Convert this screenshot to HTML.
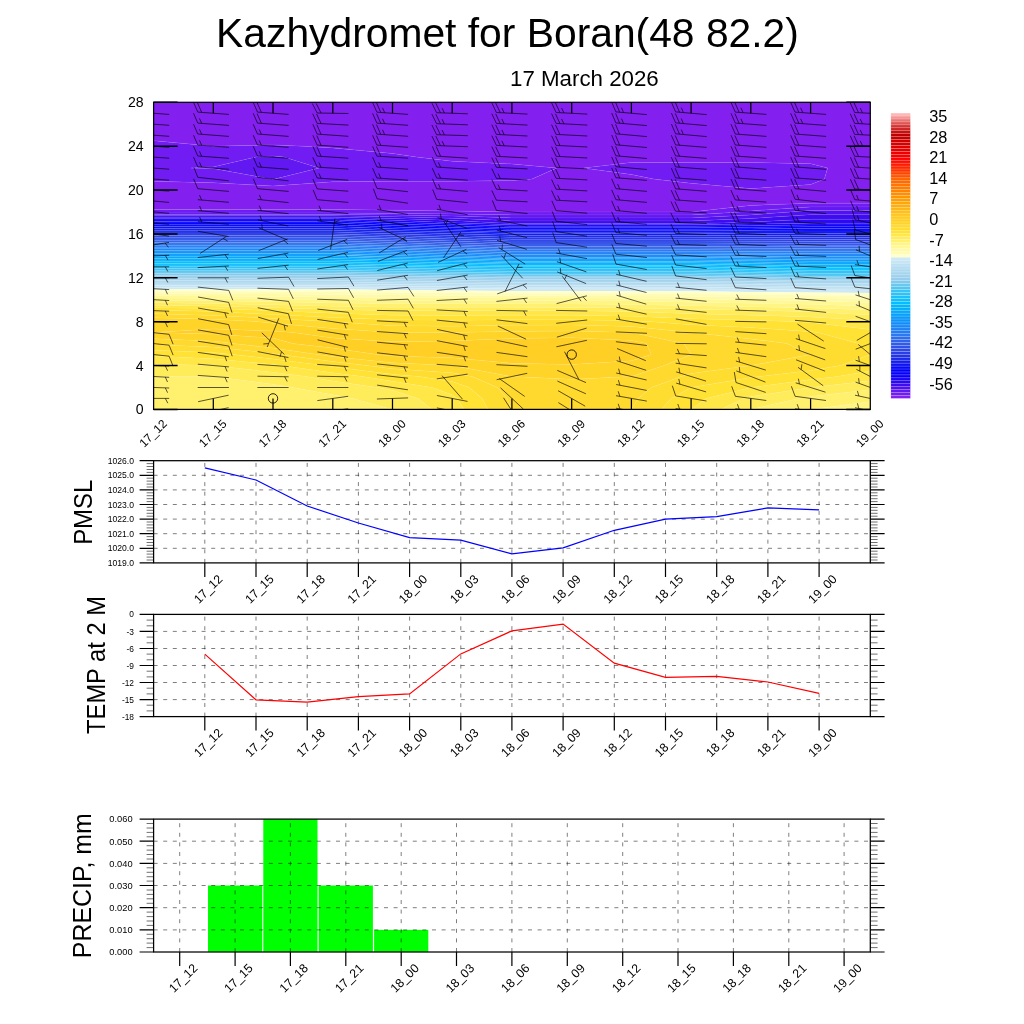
<!DOCTYPE html>
<html><head><meta charset="utf-8"><title>Kazhydromet for Boran(48 82.2)</title>
<style>html,body{margin:0;padding:0;background:#fff}svg{display:block}text{font-family:"Liberation Sans",sans-serif;fill:#000}</style></head><body>
<svg width="1024" height="1024" viewBox="0 0 1024 1024">
<rect width="1024" height="1024" fill="#fff"/>
<text x="507.5" y="47" font-size="40.8" text-anchor="middle">Kazhydromet for Boran(48 82.2)</text>
<text x="584.4" y="86.2" font-size="22.3" text-anchor="middle">17 March 2026</text>
<defs><clipPath id="cp"><rect x="153.6" y="102.3" width="716.7" height="307.1"/></clipPath></defs>
<g clip-path="url(#cp)">
<rect x="153.6" y="102.3" width="716.7" height="307.1" fill="#fff"/>
<g stroke="#fff" stroke-opacity=".15" stroke-width=".45" stroke-linejoin="round">
<path fill="#831fef" fill-rule="evenodd" d="M511.9,212L571.7,212L631.4,212L691.1,212L750.8,205.4L810.6,203.2L870.3,203.2L870.3,201L870.3,190L870.3,179.1L870.3,168.1L870.3,157.1L870.3,146.2L870.3,135.2L870.3,124.2L870.3,113.3L870.3,102.3L810.6,102.3L750.8,102.3L691.1,102.3L631.4,102.3L571.7,102.3L511.9,102.3L452.2,102.3L392.5,102.3L332.8,102.3L273,102.3L213.3,102.3L153.6,102.3L153.6,113.3L153.6,124.2L153.6,135.2L153.6,140.7L213.3,146.2L273,145L302.9,146.2L332.8,147.9L392.5,153.5L416.4,157.1L452.2,161.3L511.9,164L556.7,168.1L531.9,179.1L511.9,180.6L452.2,181.3L392.5,181.3L332.8,181.8L273,186L213.3,182.7L153.6,181.3L153.6,190L153.6,201L153.6,209.4L213.3,209.4L273,209.4L332.8,209.4L392.5,210.2L452.2,211ZM653.8,179.1L631.4,174.4L583.6,168.1L631.4,162.6L691.1,162.6L750.8,162.6L810.6,163.7L827.6,168.1L824.4,179.1L810.6,184.6L750.8,188.5L691.1,183.3Z"/>
<path fill="#701cf2" fill-rule="evenodd" d="M213.3,213L273,213L332.8,213L392.5,213.4L452.2,213.9L511.9,214.9L571.7,214.9L631.4,214.9L691.1,214.9L740.9,212L750.8,210.9L810.6,206.9L870.3,206.9L870.3,203.2L810.6,203.2L750.8,205.4L691.1,212L631.4,212L571.7,212L511.9,212L452.2,211L392.5,210.2L332.8,209.4L273,209.4L213.3,209.4L153.6,209.4L153.6,212L153.6,213ZM213.3,182.7L273,186L332.8,181.8L392.5,181.3L452.2,181.3L511.9,180.6L531.9,179.1L556.7,168.1L511.9,164L452.2,161.3L416.4,157.1L392.5,153.5L332.8,147.9L302.9,146.2L273,145L213.3,146.2L153.6,140.7L153.6,146.2L153.6,157.1L153.6,168.1L153.6,179.1L153.6,181.3ZM271.4,179.1L213.3,168.6L190.9,168.1L213.3,166.9L256,157.1L273,156L283.9,157.1L319,168.1L274.5,179.1L273,179.2ZM691.1,183.3L750.8,188.5L810.6,184.6L824.4,179.1L827.6,168.1L810.6,163.7L750.8,162.6L691.1,162.6L631.4,162.6L583.6,168.1L631.4,174.4L653.8,179.1Z"/>
<path fill="#6118f1" fill-rule="evenodd" d="M213.3,214.4L273,214.4L332.8,214.4L392.5,215.1L452.2,216.1L511.9,217.9L571.7,217.9L631.4,217.9L691.1,217.9L750.8,214.9L790.7,212L810.6,210.5L870.3,210.5L870.3,206.9L810.6,206.9L750.8,210.9L740.9,212L691.1,214.9L631.4,214.9L571.7,214.9L511.9,214.9L452.2,213.9L392.5,213.4L332.8,213L273,213L213.3,213L153.6,213L153.6,214.4ZM273,179.2L274.5,179.1L319,168.1L283.9,157.1L273,156L256,157.1L213.3,166.9L190.9,168.1L213.3,168.6L271.4,179.1Z"/>
<path fill="#5012f0" fill-rule="evenodd" d="M213.3,215.8L273,215.8L332.8,215.8L392.5,216.8L452.2,218.3L511.9,220.9L571.7,220.9L631.4,220.9L691.1,220.9L750.8,218.5L810.6,214.7L870.3,214.7L870.3,212L870.3,210.5L810.6,210.5L790.7,212L750.8,214.9L691.1,217.9L631.4,217.9L571.7,217.9L511.9,217.9L452.2,216.1L392.5,215.1L332.8,214.4L273,214.4L213.3,214.4L153.6,214.4L153.6,215.8Z"/>
<path fill="#3e0cee" fill-rule="evenodd" d="M511.9,223.4L571.7,223.4L631.4,223.4L691.1,223.4L723.7,222.9L750.8,222L810.6,219.3L870.3,219.3L870.3,214.7L810.6,214.7L750.8,218.5L691.1,220.9L631.4,220.9L571.7,220.9L511.9,220.9L452.2,218.3L392.5,216.8L332.8,215.8L273,215.8L213.3,215.8L153.6,215.8L153.6,217.2L213.3,217.2L273,217.2L332.8,217.2L392.5,218.5L452.2,220.5L499.4,222.9Z"/>
<path fill="#2d08f2" fill-rule="evenodd" d="M511.9,224.8L571.7,224.8L631.4,224.8L691.1,224.8L750.8,224.1L810.6,223.3L870.3,223.3L870.3,222.9L870.3,219.3L810.6,219.3L750.8,222L723.7,222.9L691.1,223.4L631.4,223.4L571.7,223.4L511.9,223.4L499.4,222.9L452.2,220.5L392.5,218.5L332.8,217.2L273,217.2L213.3,217.2L153.6,217.2L153.6,218.7L213.3,218.7L273,218.7L332.8,218.7L392.5,220.2L452.2,222.7L457.8,222.9Z"/>
<path fill="#1b04f6" fill-rule="evenodd" d="M452.2,224.3L511.9,226.3L571.7,226.3L631.4,226.3L691.1,226.3L750.8,225.7L810.6,225L870.3,225L870.3,223.3L810.6,223.3L750.8,224.1L691.1,224.8L631.4,224.8L571.7,224.8L511.9,224.8L457.8,222.9L452.2,222.7L392.5,220.2L332.8,218.7L273,218.7L213.3,218.7L153.6,218.7L153.6,220.1L213.3,220.1L273,220.1L332.8,220.1L392.5,222L416.1,222.9Z"/>
<path fill="#0a00fa" fill-rule="evenodd" d="M392.5,223.7L452.2,225.9L511.9,227.8L571.7,227.8L631.4,227.8L691.1,227.8L750.8,227.3L810.6,226.7L870.3,226.7L870.3,225L810.6,225L750.8,225.7L691.1,226.3L631.4,226.3L571.7,226.3L511.9,226.3L452.2,224.3L416.1,222.9L392.5,222L332.8,220.1L273,220.1L213.3,220.1L153.6,220.1L153.6,221.5L213.3,221.5L273,221.5L332.8,221.5L374.4,222.9Z"/>
<path fill="#0500fb" fill-rule="evenodd" d="M213.3,222.9L273,222.9L332.8,222.9L392.5,225.4L452.2,227.4L511.9,229.2L571.7,229.2L631.4,229.2L691.1,229.2L750.8,228.9L810.6,228.4L870.3,228.4L870.3,226.7L810.6,226.7L750.8,227.3L691.1,227.8L631.4,227.8L571.7,227.8L511.9,227.8L452.2,225.9L392.5,223.7L374.4,222.9L332.8,221.5L273,221.5L213.3,221.5L153.6,221.5L153.6,222.9Z"/>
<path fill="#0000fc" fill-rule="evenodd" d="M213.3,224.8L273,224.8L332.8,224.8L392.5,227.1L452.2,229L511.9,230.7L571.7,230.7L631.4,230.7L691.1,230.7L750.8,230.4L810.6,230.1L870.3,230.1L870.3,228.4L810.6,228.4L750.8,228.9L691.1,229.2L631.4,229.2L571.7,229.2L511.9,229.2L452.2,227.4L392.5,225.4L332.8,222.9L273,222.9L213.3,222.9L153.6,222.9L153.6,224.8Z"/>
<path fill="#070af6" fill-rule="evenodd" d="M213.3,226.6L273,226.6L332.8,226.6L392.5,228.7L452.2,230.6L511.9,232.2L571.7,232.2L631.4,232.2L691.1,232.2L750.8,232L810.6,231.9L870.3,231.9L870.3,230.1L810.6,230.1L750.8,230.4L691.1,230.7L631.4,230.7L571.7,230.7L511.9,230.7L452.2,229L392.5,227.1L332.8,224.8L273,224.8L213.3,224.8L153.6,224.8L153.6,226.6Z"/>
<path fill="#0d14f1" fill-rule="evenodd" d="M213.3,228.4L273,228.4L332.8,228.4L392.5,230.4L452.2,232.1L511.9,233.6L571.7,233.6L631.4,233.6L691.1,233.6L750.8,233.6L810.6,233.6L870.3,233.6L870.3,231.9L810.6,231.9L750.8,232L691.1,232.2L631.4,232.2L571.7,232.2L511.9,232.2L452.2,230.6L392.5,228.7L332.8,226.6L273,226.6L213.3,226.6L153.6,226.6L153.6,228.4Z"/>
<path fill="#141eeb" fill-rule="evenodd" d="M511.9,235.4L571.7,235.4L631.4,235.4L691.1,235.4L750.8,235.5L810.6,235.5L870.3,235.5L870.3,233.9L870.3,233.6L810.6,233.6L750.8,233.6L691.1,233.6L631.4,233.6L571.7,233.6L511.9,233.6L452.2,232.1L392.5,230.4L332.8,228.4L273,228.4L213.3,228.4L153.6,228.4L153.6,230.3L213.3,230.3L273,230.3L332.8,230.3L392.5,232.1L452.2,233.7L460.8,233.9Z"/>
<path fill="#1b29e9" fill-rule="evenodd" d="M452.2,235.5L511.9,237.3L571.7,237.3L631.4,237.3L691.1,237.3L750.8,237.4L810.6,237.4L870.3,237.4L870.3,235.5L810.6,235.5L750.8,235.5L691.1,235.4L631.4,235.4L571.7,235.4L511.9,235.4L460.8,233.9L452.2,233.7L392.5,232.1L332.8,230.3L273,230.3L213.3,230.3L153.6,230.3L153.6,232.1L213.3,232.1L273,232.1L332.8,232.1L392.5,233.8L396.8,233.9Z"/>
<path fill="#2333e8" fill-rule="evenodd" d="M213.3,233.9L273,233.9L332.8,233.9L392.5,235.5L452.2,237.3L511.9,239.2L571.7,239.2L631.4,239.2L691.1,239.2L750.8,239.3L810.6,239.4L870.3,239.4L870.3,237.4L810.6,237.4L750.8,237.4L691.1,237.3L631.4,237.3L571.7,237.3L511.9,237.3L452.2,235.5L396.8,233.9L392.5,233.8L332.8,232.1L273,232.1L213.3,232.1L153.6,232.1L153.6,233.9Z"/>
<path fill="#2a3ee6" fill-rule="evenodd" d="M213.3,235.6L273,235.6L332.8,235.6L392.5,237.3L452.2,239.1L511.9,241.1L571.7,241.1L631.4,241.1L691.1,241.1L750.8,241.2L810.6,241.4L870.3,241.4L870.3,239.4L810.6,239.4L750.8,239.3L691.1,239.2L631.4,239.2L571.7,239.2L511.9,239.2L452.2,237.3L392.5,235.5L332.8,233.9L273,233.9L213.3,233.9L153.6,233.9L153.6,235.6Z"/>
<path fill="#2d48e7" fill-rule="evenodd" d="M213.3,237.3L273,237.3L332.8,237.3L392.5,239L452.2,240.9L511.9,243L571.7,243L631.4,243L691.1,243L750.8,243.2L810.6,243.3L870.3,243.3L870.3,241.4L810.6,241.4L750.8,241.2L691.1,241.1L631.4,241.1L571.7,241.1L511.9,241.1L452.2,239.1L392.5,237.3L332.8,235.6L273,235.6L213.3,235.6L153.6,235.6L153.6,237.3Z"/>
<path fill="#3052e8" fill-rule="evenodd" d="M511.9,244.9L571.7,244.9L631.4,244.9L691.1,244.9L750.8,245L810.6,245.2L870.3,245.2L870.3,244.9L870.3,243.3L810.6,243.3L750.8,243.2L691.1,243L631.4,243L571.7,243L511.9,243L452.2,240.9L392.5,239L332.8,237.3L273,237.3L213.3,237.3L153.6,237.3L153.6,239L213.3,239L273,239L332.8,239L392.5,240.8L452.2,242.8Z"/>
<path fill="#315bea" fill-rule="evenodd" d="M511.9,246.5L571.7,246.5L631.4,246.5L691.1,246.5L750.8,246.7L810.6,246.8L870.3,246.8L870.3,245.2L810.6,245.2L750.8,245L691.1,244.9L631.4,244.9L571.7,244.9L511.9,244.9L452.2,242.8L392.5,240.8L332.8,239L273,239L213.3,239L153.6,239L153.6,240.7L213.3,240.7L273,240.7L332.8,240.7L392.5,242.5L452.2,244.6L460.8,244.9Z"/>
<path fill="#3264eb" fill-rule="evenodd" d="M452.2,246.2L511.9,248.1L571.7,248.1L631.4,248.1L691.1,248.1L750.8,248.3L810.6,248.5L870.3,248.5L870.3,246.8L810.6,246.8L750.8,246.7L691.1,246.5L631.4,246.5L571.7,246.5L511.9,246.5L460.8,244.9L452.2,244.6L392.5,242.5L332.8,240.7L273,240.7L213.3,240.7L153.6,240.7L153.6,242.4L213.3,242.4L273,242.4L332.8,242.4L392.5,244.3L409.6,244.9Z"/>
<path fill="#2e6eee" fill-rule="evenodd" d="M392.5,245.9L452.2,247.8L511.9,249.7L571.7,249.7L631.4,249.7L691.1,249.7L750.8,249.9L810.6,250.1L870.3,250.1L870.3,248.5L810.6,248.5L750.8,248.3L691.1,248.1L631.4,248.1L571.7,248.1L511.9,248.1L452.2,246.2L409.6,244.9L392.5,244.3L332.8,242.4L273,242.4L213.3,242.4L153.6,242.4L153.6,244L213.3,244L273,244L332.8,244L358.4,244.9Z"/>
<path fill="#2a78f2" fill-rule="evenodd" d="M213.3,245.7L273,245.7L332.8,245.7L392.5,247.5L452.2,249.4L511.9,251.3L571.7,251.3L631.4,251.3L691.1,251.3L750.8,251.5L810.6,251.8L870.3,251.8L870.3,250.1L810.6,250.1L750.8,249.9L691.1,249.7L631.4,249.7L571.7,249.7L511.9,249.7L452.2,247.8L392.5,245.9L358.4,244.9L332.8,244L273,244L213.3,244L153.6,244L153.6,244.9L153.6,245.7Z"/>
<path fill="#247df4" fill-rule="evenodd" d="M213.3,247.2L273,247.2L332.8,247.2L392.5,249.1L452.2,251L511.9,252.9L571.7,252.9L631.4,252.9L691.1,252.9L750.8,253.2L810.6,253.4L870.3,253.4L870.3,251.8L810.6,251.8L750.8,251.5L691.1,251.3L631.4,251.3L571.7,251.3L511.9,251.3L452.2,249.4L392.5,247.5L332.8,245.7L273,245.7L213.3,245.7L153.6,245.7L153.6,247.2Z"/>
<path fill="#1e82f6" fill-rule="evenodd" d="M213.3,248.8L273,248.8L332.8,248.8L392.5,250.7L452.2,252.6L511.9,254.6L571.7,254.6L631.4,254.6L691.1,254.6L750.8,254.8L810.6,255L870.3,255L870.3,253.4L810.6,253.4L750.8,253.2L691.1,252.9L631.4,252.9L571.7,252.9L511.9,252.9L452.2,251L392.5,249.1L332.8,247.2L273,247.2L213.3,247.2L153.6,247.2L153.6,248.8Z"/>
<path fill="#1887f8" fill-rule="evenodd" d="M511.9,256.1L571.7,256.1L631.4,256.1L691.1,256.1L750.8,256.4L810.6,256.6L870.3,256.6L870.3,255.8L870.3,255L810.6,255L750.8,254.8L691.1,254.6L631.4,254.6L571.7,254.6L511.9,254.6L452.2,252.6L392.5,250.7L332.8,248.8L273,248.8L213.3,248.8L153.6,248.8L153.6,250.4L213.3,250.4L273,250.4L332.8,250.4L392.5,252.3L452.2,254.2L502.3,255.8Z"/>
<path fill="#128cfa" fill-rule="evenodd" d="M511.9,257.5L571.7,257.5L631.4,257.5L691.1,257.5L750.8,257.8L810.6,258.2L870.3,258.2L870.3,256.6L810.6,256.6L750.8,256.4L691.1,256.1L631.4,256.1L571.7,256.1L511.9,256.1L502.3,255.8L452.2,254.2L392.5,252.3L332.8,250.4L273,250.4L213.3,250.4L153.6,250.4L153.6,251.9L213.3,251.9L273,251.9L332.8,251.9L392.5,253.8L452.2,255.8L453.8,255.8Z"/>
<path fill="#0e93fa" fill-rule="evenodd" d="M452.2,257.2L511.9,258.8L571.7,258.8L631.4,258.8L691.1,258.8L750.8,259.2L810.6,259.8L870.3,259.8L870.3,258.2L810.6,258.2L750.8,257.8L691.1,257.5L631.4,257.5L571.7,257.5L511.9,257.5L453.8,255.8L452.2,255.8L392.5,253.8L332.8,251.9L273,251.9L213.3,251.9L153.6,251.9L153.6,253.5L213.3,253.5L273,253.5L332.8,253.5L392.5,255.4L405.4,255.8Z"/>
<path fill="#0b9afb" fill-rule="evenodd" d="M392.5,257L452.2,258.7L511.9,260.1L571.7,260.1L631.4,260.1L691.1,260.1L750.8,260.7L810.6,261.3L870.3,261.3L870.3,259.8L810.6,259.8L750.8,259.2L691.1,258.8L631.4,258.8L571.7,258.8L511.9,258.8L452.2,257.2L405.4,255.8L392.5,255.4L332.8,253.5L273,253.5L213.3,253.5L153.6,253.5L153.6,255.1L213.3,255.1L273,255.1L332.8,255.1L357,255.8Z"/>
<path fill="#07a1fb" fill-rule="evenodd" d="M213.3,256.7L273,256.7L332.8,256.7L392.5,258.5L452.2,260.1L511.9,261.5L571.7,261.5L631.4,261.5L691.1,261.5L750.8,262.1L810.6,262.9L870.3,262.9L870.3,261.3L810.6,261.3L750.8,260.7L691.1,260.1L631.4,260.1L571.7,260.1L511.9,260.1L452.2,258.7L392.5,257L357,255.9L332.8,255.1L273,255.1L213.3,255.1L153.6,255.1L153.6,255.8L153.6,256.7Z"/>
<path fill="#04a8fc" fill-rule="evenodd" d="M213.3,258.4L273,258.4L332.8,258.4L392.5,260.1L452.2,261.5L511.9,262.8L571.7,262.8L631.4,262.8L691.1,262.8L750.8,263.6L810.6,264.5L870.3,264.5L870.3,262.9L810.6,262.9L750.8,262.1L691.1,261.5L631.4,261.5L571.7,261.5L511.9,261.5L452.2,260.1L392.5,258.5L332.8,256.7L273,256.7L213.3,256.7L153.6,256.7L153.6,258.4Z"/>
<path fill="#00affc" fill-rule="evenodd" d="M213.3,260.1L273,260.1L332.8,260.1L392.5,261.6L452.2,263L511.9,264.1L571.7,264.1L631.4,264.1L691.1,264.1L750.8,265L810.6,266L870.3,266L870.3,264.5L810.6,264.5L750.8,263.6L691.1,262.8L631.4,262.8L571.7,262.8L511.9,262.8L452.2,261.5L392.5,260.1L332.8,258.4L273,258.4L213.3,258.4L153.6,258.4L153.6,260.1Z"/>
<path fill="#00b6fe" fill-rule="evenodd" d="M810.6,267.5L870.3,267.5L870.3,266.8L870.3,266L810.6,266L750.8,265L691.1,264.1L631.4,264.1L571.7,264.1L511.9,264.1L452.2,263L392.5,261.6L332.8,260.1L273,260.1L213.3,260.1L153.6,260.1L153.6,261.8L213.3,261.8L273,261.8L332.8,261.8L392.5,263.2L452.2,264.4L511.9,265.5L571.7,265.5L631.4,265.5L691.1,265.5L750.8,266.5L770.8,266.8Z"/>
<path fill="#00beff" fill-rule="evenodd" d="M511.9,266.8L571.7,266.8L631.4,266.8L691.1,266.8L750.8,268L810.6,269L870.3,269L870.3,267.5L810.6,267.5L770.8,266.8L750.8,266.5L691.1,265.5L631.4,265.5L571.7,265.5L511.9,265.5L452.2,264.4L392.5,263.2L332.8,261.8L273,261.8L213.3,261.8L153.6,261.8L153.6,263.4L213.3,263.4L273,263.4L332.8,263.4L392.5,264.7L452.2,265.9Z"/>
<path fill="#0fbffc" fill-rule="evenodd" d="M452.2,267.4L511.9,268.4L571.7,268.4L631.4,268.4L691.1,268.4L750.8,269.5L810.6,270.5L870.3,270.5L870.3,269L810.6,269L750.8,268L691.1,266.8L631.4,266.8L571.7,266.8L511.9,266.8L452.2,265.9L392.5,264.7L332.8,263.4L273,263.4L213.3,263.4L153.6,263.4L153.6,265.1L213.3,265.1L273,265.1L332.8,265.1L392.5,266.3L422.4,266.8Z"/>
<path fill="#1ec0fa" fill-rule="evenodd" d="M213.3,266.8L273,266.8L332.8,266.8L392.5,267.9L452.2,269L511.9,270L571.7,270L631.4,270L691.1,270L750.8,271L810.6,271.9L870.3,271.9L870.3,270.5L810.6,270.5L750.8,269.5L691.1,268.4L631.4,268.4L571.7,268.4L511.9,268.4L452.2,267.4L422.4,266.8L392.5,266.3L332.8,265.1L273,265.1L213.3,265.1L153.6,265.1L153.6,266.8Z"/>
<path fill="#2dc2f8" fill-rule="evenodd" d="M213.3,268.5L273,268.5L332.8,268.5L392.5,269.6L452.2,270.6L511.9,271.5L571.7,271.5L631.4,271.5L691.1,271.5L750.8,272.5L810.6,273.4L870.3,273.4L870.3,271.9L810.6,271.9L750.8,271L691.1,270L631.4,270L571.7,270L511.9,270L452.2,269L392.5,267.9L332.8,266.8L273,266.8L213.3,266.8L153.6,266.8L153.6,268.5Z"/>
<path fill="#3cc3f5" fill-rule="evenodd" d="M213.3,270.2L273,270.2L332.8,270.2L392.5,271.2L452.2,272.2L511.9,273.1L571.7,273.1L631.4,273.1L691.1,273.1L750.8,274L810.6,274.9L870.3,274.9L870.3,273.4L810.6,273.4L750.8,272.5L691.1,271.5L631.4,271.5L571.7,271.5L511.9,271.5L452.2,270.6L392.5,269.6L332.8,268.5L273,268.5L213.3,268.5L153.6,268.5L153.6,270.2Z"/>
<path fill="#52c6f2" fill-rule="evenodd" d="M213.3,271.9L273,271.9L332.8,271.9L392.5,272.9L452.2,273.8L511.9,274.7L571.7,274.7L631.4,274.7L691.1,274.7L750.8,275.5L810.6,276.3L870.3,276.3L870.3,274.9L810.6,274.9L750.8,274L691.1,273.1L631.4,273.1L571.7,273.1L511.9,273.1L452.2,272.2L392.5,271.2L332.8,270.2L273,270.2L213.3,270.2L153.6,270.2L153.6,271.9Z"/>
<path fill="#69c8f0" fill-rule="evenodd" d="M810.6,277.8L870.3,277.8L870.3,276.3L810.6,276.3L750.8,275.5L691.1,274.7L631.4,274.7L571.7,274.7L511.9,274.7L452.2,273.8L392.5,272.9L332.8,271.9L273,271.9L213.3,271.9L153.6,271.9L153.6,273.6L213.3,273.6L273,273.6L332.8,273.6L392.5,274.5L452.2,275.4L511.9,276.2L571.7,276.2L631.4,276.2L691.1,276.2L750.8,277Z"/>
<path fill="#80caee" fill-rule="evenodd" d="M511.9,277.8L571.7,277.8L631.4,277.8L691.1,277.8L750.8,278.5L810.6,279.2L870.3,279.2L870.3,277.8L810.6,277.8L750.8,277L691.1,276.2L631.4,276.2L571.7,276.2L511.9,276.2L452.2,275.4L392.5,274.5L332.8,273.6L273,273.6L213.3,273.6L153.6,273.6L153.6,275.3L213.3,275.3L273,275.3L332.8,275.3L392.5,276.1L452.2,277Z"/>
<path fill="#96cdeb" fill-rule="evenodd" d="M392.5,277.8L452.2,278.6L511.9,279.4L571.7,279.4L631.4,279.4L691.1,279.4L750.8,280L810.6,280.7L870.3,280.7L870.3,279.2L810.6,279.2L750.8,278.5L691.1,277.8L631.4,277.8L571.7,277.8L511.9,277.8L452.2,277L392.5,276.1L332.8,275.3L273,275.3L213.3,275.3L153.6,275.3L153.6,276.9L213.3,276.9L273,276.9L332.8,276.9Z"/>
<path fill="#9ed1ed" fill-rule="evenodd" d="M213.3,278.7L273,278.7L332.8,278.7L392.5,279.5L452.2,280.2L511.9,280.9L571.7,280.9L631.4,280.9L691.1,280.9L750.8,281.5L810.6,282.1L870.3,282.1L870.3,280.7L810.6,280.7L750.8,280L691.1,279.4L631.4,279.4L571.7,279.4L511.9,279.4L452.2,278.6L392.5,277.8L332.8,276.9L273,276.9L213.3,276.9L153.6,276.9L153.6,277.8L153.6,278.7Z"/>
<path fill="#a6d5ee" fill-rule="evenodd" d="M213.3,280.4L273,280.4L332.8,280.4L392.5,281.1L452.2,281.8L511.9,282.5L571.7,282.5L631.4,282.5L691.1,282.5L750.8,283L810.6,283.6L870.3,283.6L870.3,282.1L810.6,282.1L750.8,281.5L691.1,280.9L631.4,280.9L571.7,280.9L511.9,280.9L452.2,280.2L392.5,279.5L332.8,278.7L273,278.7L213.3,278.7L153.6,278.7L153.6,280.4Z"/>
<path fill="#aed9f0" fill-rule="evenodd" d="M213.3,282.1L273,282.1L332.8,282.1L392.5,282.8L452.2,283.5L511.9,284.1L571.7,284.1L631.4,284.1L691.1,284.1L750.8,284.5L810.6,285L870.3,285L870.3,283.6L810.6,283.6L750.8,283L691.1,282.5L631.4,282.5L571.7,282.5L511.9,282.5L452.2,281.8L392.5,281.1L332.8,280.4L273,280.4L213.3,280.4L153.6,280.4L153.6,282.1Z"/>
<path fill="#b5dcf1" fill-rule="evenodd" d="M213.3,283.9L273,283.9L332.8,283.9L392.5,284.5L452.2,285.1L511.9,285.6L571.7,285.6L631.4,285.6L691.1,285.6L750.8,286L810.6,286.4L870.3,286.4L870.3,285L810.6,285L750.8,284.5L691.1,284.1L631.4,284.1L571.7,284.1L511.9,284.1L452.2,283.5L392.5,282.8L332.8,282.1L273,282.1L213.3,282.1L153.6,282.1L153.6,283.9Z"/>
<path fill="#bde0f3" fill-rule="evenodd" d="M213.3,285.6L273,285.6L332.8,285.6L392.5,286.2L452.2,286.7L511.9,287.2L571.7,287.2L631.4,287.2L691.1,287.2L750.8,287.6L810.6,287.9L870.3,287.9L870.3,286.4L810.6,286.4L750.8,286L691.1,285.6L631.4,285.6L571.7,285.6L511.9,285.6L452.2,285.1L392.5,284.5L332.8,283.9L273,283.9L213.3,283.9L153.6,283.9L153.6,285.6Z"/>
<path fill="#c5e4f4" fill-rule="evenodd" d="M511.9,288.8L571.7,288.8L631.4,288.8L691.1,288.8L750.8,289.3L810.6,289.8L870.3,289.9L870.3,288.8L870.3,287.9L810.6,287.9L750.8,287.6L691.1,287.2L631.4,287.2L571.7,287.2L511.9,287.2L452.2,286.7L392.5,286.2L332.8,285.6L273,285.6L213.3,285.6L153.6,285.6L153.6,287.4L213.3,287.4L273,287.4L332.8,287.4L392.5,287.9L452.2,288.3Z"/>
<path fill="#cde8f6" fill-rule="evenodd" d="M213.3,289.2L273,289.2L332.8,289.3L392.5,290L452.2,290.5L511.9,291L571.7,291.1L631.4,291.1L691.1,291.3L750.8,291.9L810.6,292.5L870.3,292.9L870.3,289.9L810.6,289.8L750.8,289.3L691.1,288.8L631.4,288.8L571.7,288.8L511.9,288.8L452.2,288.3L392.5,287.9L332.8,287.4L273,287.4L213.3,287.4L153.6,287.4L153.6,288.8L153.6,289.2Z"/>
<path fill="#ffffc8" fill-rule="evenodd" d="M213.3,291.5L273,291.7L332.8,291.9L392.5,292.5L452.2,292.9L511.9,293.3L571.7,293.4L631.4,293.5L691.1,293.9L750.8,294.5L810.6,295.2L870.3,295.9L870.3,292.9L810.6,292.5L750.8,291.9L691.1,291.3L631.4,291.1L571.7,291.1L511.9,291L452.2,290.5L392.5,290L332.8,289.3L273,289.2L213.3,289.2L153.6,289.2L153.6,291.4Z"/>
<path fill="#fffcb6" fill-rule="evenodd" d="M213.3,293.8L273,294.1L332.8,294.5L392.5,295.1L452.2,295.4L511.9,295.6L571.7,295.8L631.4,295.9L691.1,296.4L750.8,297.1L810.6,297.8L870.3,298.8L870.3,295.9L810.6,295.2L750.8,294.5L691.1,293.9L631.4,293.5L571.7,293.4L511.9,293.3L452.2,292.9L392.5,292.5L332.8,291.9L273,291.7L213.3,291.5L153.6,291.4L153.6,293.6Z"/>
<path fill="#fffaa5" fill-rule="evenodd" d="M750.8,299.7L810.6,300.8L870.3,302.4L870.3,299.7L870.3,298.8L810.6,297.8L750.8,297.1L691.1,296.4L631.4,295.9L571.7,295.8L511.9,295.6L452.2,295.4L392.5,295.1L332.8,294.5L273,294.1L213.3,293.8L153.6,293.6L153.6,295.8L213.3,296.1L273,296.6L332.8,297.1L392.5,297.7L452.2,297.8L511.9,297.9L571.7,298.1L631.4,298.3L691.1,299Z"/>
<path fill="#fff894" fill-rule="evenodd" d="M332.8,299.7L392.5,300.4L452.2,300.4L511.9,300.4L571.7,300.7L631.4,301.1L691.1,302.2L750.8,303.3L810.6,304.3L870.3,306.2L870.3,302.4L810.6,300.8L750.8,299.7L691.1,299L631.4,298.3L571.7,298.1L511.9,297.9L452.2,297.8L392.5,297.7L332.8,297.1L273,296.6L213.3,296.1L153.6,295.8L153.6,298L213.3,298.4L273,299Z"/>
<path fill="#fff582" fill-rule="evenodd" d="M810.6,409.4L870.3,409.4L870.3,401.6L810.6,409.4ZM213.3,300.8L273,301.8L332.8,302.9L392.5,303.8L452.2,303.8L511.9,303.8L571.7,304L631.4,304.5L691.1,305.7L750.8,306.8L810.6,307.9L870.3,309.9L870.3,306.2L810.6,304.3L750.8,303.3L691.1,302.2L631.4,301.1L571.7,300.7L511.9,300.4L452.2,300.4L392.5,300.4L332.8,299.7L273,299L213.3,298.4L153.6,298L153.6,299.7L153.6,300.2Z"/>
<path fill="#fff06e" fill-rule="evenodd" d="M213.3,409.4L273,409.4L332.8,409.4L392.5,409.4L352.7,398.4L332.8,394.8L293,387.5L273,384.3L213.3,376.5L153.6,376.5L153.6,387.5L153.6,398.4L153.6,409.4ZM750.8,409.4L810.6,409.4L870.3,401.6L870.3,398.4L870.3,389.7L810.6,396.6L798.6,398.4L750.8,409.4ZM810.6,311.7L870.3,315.1L870.3,310.7L870.3,309.9L810.6,307.9L750.8,306.8L691.1,305.7L631.4,304.5L571.7,304L511.9,303.8L452.2,303.8L392.5,303.8L332.8,302.9L273,301.8L213.3,300.8L153.6,300.2L153.6,302.7L213.3,303.4L273,304.8L332.8,306.2L392.5,307.3L452.2,307.3L511.9,307.3L571.7,307.4L631.4,307.9L691.1,309.3L750.8,310.3L770.8,310.7Z"/>
<path fill="#ffec5b" fill-rule="evenodd" d="M392.5,409.4L432.3,409.4L418.1,398.4L392.5,390.2L377.6,387.5L332.8,380.9L306.2,376.5L273,372.3L213.3,365.5L153.6,364L153.6,365.5L153.6,376.5L213.3,376.5L273,384.3L293,387.5L332.8,394.8L352.7,398.4ZM750.8,409.4L798.6,398.4L810.6,396.6L870.3,389.7L870.3,387.5L870.3,380.7L810.6,387.5L750.9,396.6L743.4,398.4L721,409.4ZM392.5,310.7L452.2,310.7L511.9,310.7L571.7,310.7L631.4,311.6L691.1,313.7L750.8,315.2L810.6,317L870.3,320.6L870.3,315.1L810.6,311.7L770.8,310.7L750.8,310.3L691.1,309.3L631.4,307.9L571.7,307.4L511.9,307.3L452.2,307.3L392.5,307.3L332.8,306.2L273,304.8L213.3,303.4L153.6,302.7L153.6,305.2L213.3,306L273,307.7L332.8,309.4Z"/>
<path fill="#ffe748" fill-rule="evenodd" d="M452.2,409.4L464.2,409.4L457.2,398.4L452.2,394.8L432.3,387.5L392.5,381.2L362.6,376.5L332.8,372.8L281.6,365.5L273,364.4L213.3,358.7L153.6,356.1L153.6,364L213.3,365.5L273,372.3L306.2,376.5L332.8,380.9L377.6,387.5L392.5,390.2L418.1,398.4L432.3,409.4ZM691.1,409.4L721,409.4L743.4,398.4L750.8,396.6L810.6,387.5L870.3,380.7L870.3,376.5L870.3,371L837.1,376.5L810.6,379.6L750.8,387.5L706.1,398.4L691.1,409.4ZM810.6,322.6L870.3,329.6L870.3,321.7L870.3,320.6L810.6,317L750.8,315.2L691.1,313.7L631.4,311.6L571.7,310.7L511.9,310.7L452.2,310.7L392.5,310.7L332.8,309.4L273,307.7L213.3,306L153.6,305.2L153.6,307.7L213.3,308.6L273,310.7L332.8,313.2L392.5,315.3L452.2,315.5L511.9,315.3L571.7,315.3L631.4,316.2L691.1,318.7L750.8,320.2L795.6,321.7Z"/>
<path fill="#ffe234" fill-rule="evenodd" d="M482.1,398.4L469.3,387.5L452.2,381.5L419,376.5L392.5,374.3L332.8,366.7L324.2,365.5L273,358.9L233.2,354.6L213.3,352.4L153.6,350.2L153.6,354.6L153.6,356.1L213.3,358.7L273,364.4L281.6,365.5L332.8,372.8L362.6,376.5L392.5,381.2L432.3,387.5L452.2,394.8L457.2,398.4L464.2,409.4L488.1,409.4ZM691.1,409.4L706.1,398.4L750.8,387.5L810.6,379.6L837.1,376.5L870.3,371L870.3,365.5L870.3,354.6L870.3,343.6L870.3,332.6L870.3,329.6L810.6,322.6L795.6,321.7L750.8,320.2L691.1,318.7L631.4,316.2L571.7,315.3L511.9,315.3L452.2,315.5L392.5,315.3L332.8,313.2L273,310.7L213.3,308.6L153.6,307.7L153.6,310.2L183.5,310.7L213.3,311.5L273,314.6L332.8,317.4L392.5,319.8L452.2,320.2L511.9,319.8L571.7,319.8L631.4,320.7L651.3,321.7L691.1,324.8L750.8,327.6L810.6,331.7L818,332.6L858.4,343.6L870.3,354.6L840.4,365.5L810.6,370.5L759.4,376.5L750.8,377.5L691.1,387.5L671.2,398.4L661.3,409.4Z"/>
<path fill="#ffdd30" fill-rule="evenodd" d="M511.9,409.4L507,398.4L497.7,387.5L472.1,376.5L452.2,372.8L392.5,368.8L366.9,365.5L332.8,361.5L280.5,354.6L273,353.5L213.3,346.9L153.6,344.7L153.6,350.2L213.3,352.4L233.2,354.6L273,358.9L324.2,365.5L332.8,366.7L392.5,374.3L419,376.5L452.2,381.5L469.3,387.5L482.1,398.4L488.1,409.4ZM631.4,409.4L661.3,409.4L671.2,398.4L691.1,387.5L750.8,377.5L759.4,376.5L810.6,370.5L840.4,365.5L870.3,354.6L858.4,343.6L818,332.6L810.6,331.7L750.8,327.6L691.1,324.8L651.3,321.7L631.4,320.7L571.7,319.8L511.9,319.8L452.2,320.2L392.5,319.8L332.8,317.4L273,314.6L213.3,311.5L183.5,310.7L153.6,310.2L153.6,310.7L153.6,313.8L213.3,315.4L273,318.5L332.8,321.7L392.5,325.8L452.2,326.2L511.9,325.3L571.7,325.1L631.4,326.5L691.1,332.6L750.8,338.9L786.7,343.6L810.6,354.6L750.8,365.5L691.1,373.4L681.2,376.5L651.3,387.5L638,398.4L631.4,409.4Z"/>
<path fill="#ffd92d" fill-rule="evenodd" d="M511.9,409.4L571.7,409.4L631.4,409.4L638,398.4L651.3,387.5L681.2,376.5L691.1,373.4L750.8,365.5L810.6,354.6L786.7,343.6L750.8,338.9L691.1,332.6L631.4,326.5L571.7,325.1L511.9,325.3L452.2,326.2L392.5,325.8L332.8,321.7L273,318.5L213.3,315.4L153.6,313.8L153.6,317.7L213.3,319.3L258.1,321.7L273,323.2L332.8,328.5L392.5,332.6L452.2,332.6L511.9,331.4L571.7,330.9L631.4,332.6L683.7,343.6L691.1,354.6L664,365.5L631.4,376.5L571.7,379.2L511.9,376.5L452.2,365.5L392.5,362.8L332.8,356.6L317.8,354.6L273,348L233.2,343.6L213.3,340.9L153.6,338.7L153.6,343.6L153.6,344.7L213.3,346.9L273,353.5L280.5,354.6L332.8,361.5L366.9,365.5L392.5,368.8L452.2,372.8L472.1,376.5L497.7,387.5L507,398.4Z"/>
<path fill="#ffd429" fill-rule="evenodd" d="M571.7,379.2L631.4,376.5L664,365.5L691.1,354.6L683.7,343.6L631.4,332.6L571.7,330.9L511.9,331.4L452.2,332.6L392.5,332.6L332.8,328.5L273,323.2L258.1,321.7L213.3,319.3L153.6,317.7L153.6,321.7L153.6,332.6L153.6,338.7L213.3,340.9L233.2,343.6L273,348L317.8,354.6L332.8,356.6L392.5,362.8L452.2,365.5L511.9,376.5ZM377.6,354.6L332.8,348L293,343.6L273,338.1L213.3,334L153.6,332.6L213.3,329L273,331.1L293,332.6L332.8,338.1L392.5,341.8L452.2,341.1L511.9,338.5L571.7,337.7L631.4,340.5L646.3,343.6L651.3,354.6L631.4,360.7L571.7,364.4L511.9,363.3L452.2,357.7L392.5,355.9Z"/>
<path fill="#ffcf25" fill-rule="evenodd" d="M392.5,355.9L452.2,357.7L511.9,363.3L571.7,364.4L631.4,360.7L651.3,354.6L646.3,343.6L631.4,340.5L571.7,337.7L511.9,338.5L452.2,341.1L392.5,341.8L332.8,338.1L293,332.6L273,331.1L213.3,329L153.6,332.6L213.3,334L273,338.1L293,343.6L332.8,348L377.6,354.6Z"/>
</g>
<path d="M138,410.9L169.2,410.9M165.3,410.9L167.8,415.6M138,398.4L169.2,398.4M165.3,398.4L167.8,403.2M138,386.9L169.2,388M165.3,387.9L167.6,392.7M138,375.7L169.2,377.3M165.3,377.1L167.5,382M138,365L169.2,366.1M165.3,365.9L167.6,370.7M138.1,352.9L169.1,356.2M169.1,356.2L173.1,366.1M138.1,342L169.1,345.2M169.1,345.2L173.1,355.1M138.1,331L169.1,334.3M169.1,334.3L173.1,344.2M138,320.8L169.2,322.5M165.3,322.3L167.5,327.1M138,310.1L169.2,311.2M165.3,311.1L167.6,315.9M138,298.9L169.2,300.5M165.3,300.3L167.5,305.2M138,287.9L169.2,289.6M165.3,289.4L167.5,294.2M138,277.8L169.2,277.8M165.3,277.8L167.8,282.5M138,266.8L169.2,266.8M165.3,266.8L167.8,271.5M138,256.4L169.2,255.3M165.3,255.4L168,260.1M138.2,247.3L169,242.4M165.2,243.1L168.4,247.3M169,236.1L138.2,231.7M169.1,224.3L138.1,221.6M141.9,221.9L139.9,217M169.1,213.3L138.1,210.6M141.9,211L139.9,206M169.1,202.4L138.1,199.7M141.9,200L139.9,195.1M169.2,191.1L138,189M138,189L133.7,179.2M169.2,180.2L138,178M138,178L133.7,168.2M169.2,169.2L138,167M138,167L133.7,157.2M141.9,167.3L139.8,162.4M169.2,158.2L138,156.1M138,156.1L133.7,146.3M141.9,156.3L139.8,151.4M169.2,147.3L138,145.1M138,145.1L133.7,135.3M141.9,145.4L139.8,140.5M169.2,136.3L138,134.1M138,134.1L133.7,124.3M141.9,134.4L139.8,129.5M169.2,125.3L138,123.1M138,123.1L133.7,113.4M141.9,123.4L139.8,118.5M169.2,114.4L138,112.2M138,112.2L133.7,102.4M141.9,112.5L137.6,102.7M198.1,414.1L228.6,407.7M198.1,401.7L228.6,395.2M197.7,387.5L228.9,387.5M197.8,375.4L228.9,377.6M225,377.3L227.2,382.2M197.8,364.2L228.9,366.9M225,366.5L227.1,371.5M197.9,352.4L228.8,356.7M224.9,356.2L226.7,361.2M197.9,341.2L228.7,346M228.7,346L232.2,356.2M198,329.9L228.7,335.3M228.7,335.3L232,345.5M198,318.7L228.6,324.6M228.6,324.6L231.8,334.9M198,308L228.7,313.4M224.8,312.7L226.5,317.8M198,297L228.7,302.4M228.7,302.4L232,312.6M197.8,287.1L228.8,290.4M228.8,290.4L232.8,300.3M197.7,277.8L228.9,277.8M225,277.8L227.5,282.5M197.7,267.6L228.9,266M225,266.2L227.8,270.8M197.8,257.5L228.8,254.2M225,254.6L228,259.1M200.2,253.4L226.4,236.4M223.1,238.5L227.8,241.1M228.7,236.5L197.9,231.3M228.9,224.3L197.8,221.6M201.7,221.9L199.6,217M228.9,213.3L197.8,210.6M201.7,211L199.6,206M228.9,202.3L197.8,199.7M201.7,200.1L199.5,195.1M228.9,191.4L197.8,188.7M197.8,188.7L193.6,178.8M228.8,180.8L197.8,177.3M197.8,177.3L193.9,167.4M228.9,169.3L197.8,166.9M197.8,166.9L193.5,157.1M201.7,167.2L199.5,162.3M228.9,158.3L197.8,156M197.8,156L193.5,146.2M201.7,156.3L199.5,151.4M228.9,147.3L197.8,145M197.8,145L193.5,135.2M201.7,145.3L199.5,140.4M228.9,136.4L197.8,134M197.8,134L193.5,124.2M201.7,134.3L199.5,129.4M228.9,125.4L197.8,123.1M197.8,123.1L193.5,113.3M201.7,123.4L199.5,118.5M228.9,114.4L197.8,112.1M197.8,112.1L193.5,102.3M201.7,112.4L197.4,102.6M257.4,410.9L288.6,410.9M257.4,387.5L288.6,387.5M257.5,376.2L288.6,376.8M284.7,376.7L287.2,381.5M257.5,364.4L288.6,366.6M284.7,366.3L286.9,371.2M257.7,351.6L288.4,357.5M284.5,356.8L286.1,361.9M261.8,332.8L284.3,354.4M281.5,351.7L280,356.9M278.9,318.2L267.2,347.1M268.7,343.5L263.3,344M258.1,317.1L288,326.2M284.2,325.1L285.3,330.3M257.7,307.7L288.4,313.7M288.4,313.7L291.5,323.9M257.5,298.1L288.6,301.4M288.6,301.4L292.6,311.3M257.5,288.2L288.6,289.3M288.6,289.3L293.3,298.9M257.5,278.3L288.6,277.2M288.6,277.2L294,286.5M257.5,268.4L288.6,265.2M284.7,265.6L287.7,270M257.7,258.6L288.4,253.1M284.6,253.8L287.9,258M258.6,250.7L287.5,239M283.9,240.5L288,243.9M287.4,240L258.7,227.8M262.3,229.3L261.8,224M288.3,226L257.8,219.9M261.6,220.6L260.1,215.5M288.6,213.7L257.5,210.3M261.4,210.7L259.4,205.7M288.6,202.6L257.5,199.4M261.4,199.8L259.4,194.9M288.6,191.4L257.5,188.7M257.5,188.7L253.3,178.8M288.5,180.8L257.6,177.3M257.6,177.3L253.6,167.4M288.6,169.3L257.5,166.9M257.5,166.9L253.2,157.1M261.4,167.2L259.2,162.3M288.6,158.3L257.5,156M257.5,156L253.2,146.2M261.4,156.3L259.2,151.4M288.6,147.3L257.5,145M257.5,145L253.2,135.2M261.4,145.3L259.2,140.4M288.6,136.4L257.5,134M257.5,134L253.2,124.2M261.4,134.3L259.2,129.4M288.6,125.4L257.5,123.1M257.5,123.1L253.2,113.3M261.4,123.4L257.1,113.6M288.6,114.4L257.5,112.1M257.5,112.1L253.2,102.3M261.4,112.4L257.1,102.6M317.3,413.1L348.2,408.7M317.3,400.6L348.2,396.3M317.2,387.5L348.4,387.5M317.2,376.2L348.4,376.8M344.5,376.7L346.9,381.5M317.2,364.4L348.3,366.6M344.4,366.3L346.6,371.2M317.4,351.9L348.1,357.3M344.3,356.6L346,361.7M317.6,339.8L347.9,347.4M344.1,346.4L345.4,351.6M317.4,330.1L348.2,335.2M344.3,334.5L346,339.6M317.3,319.4L348.2,324M344.3,323.4L346.1,328.4M317.3,309.1L348.3,312.3M348.3,312.3L352.3,322.2M317.2,299.2L348.4,300.3M348.4,300.3L353.1,309.9M317.2,289L348.4,288.5M348.4,288.5L353.6,297.8M317.2,278.6L348.4,277M348.4,277L353.9,286.1M317.3,269L348.2,264.6M344.4,265.2L347.5,269.5M317.6,259.4L348,252.3M344.2,253.2L347.7,257.3M318.2,250.5L347.3,239.3M343.7,240.7L347.7,244.2M330.6,249.4L334.9,218.5M334.4,222.3L339.4,220.5M348.2,225.1L317.3,220.8M321.2,221.3L319.4,216.3M348.3,213.6L317.3,210.3M321.1,210.8L319.1,205.8M348.3,202.4L317.2,199.7M317.2,199.7L313.1,189.8M348.3,191.2L317.2,188.9M317.2,188.9L312.9,179.1M348.3,180.2L317.2,178M317.2,178L312.9,168.2M321.1,178.3L318.9,173.4M348.3,169.1L317.2,167.1M317.2,167.1L312.8,157.3M321.1,167.4L318.9,162.5M348.3,158.2L317.2,156.1M317.2,156.1L312.9,146.3M321.1,156.3L316.8,146.5M348.3,147.3L317.2,145.1M317.2,145.1L312.9,135.3M321.1,145.4L316.8,135.6M348.3,136.3L317.2,134.1M317.2,134.1L312.9,124.3M321.1,134.4L316.8,124.6M348.4,125.1L317.2,123.4M317.2,123.4L312.7,113.7M321.1,123.6L316.6,113.9M348.4,113.5L317.2,113M317.2,113L312.3,103.5M321.1,113.1L316.2,103.5M376.9,411.4L408.1,410.4M376.9,399L408.1,397.9M377.1,385.1L407.9,389.8M377,374.8L408,378.2M404.1,377.8L406.1,382.8M377,363.9L408,367.2M404.1,366.8L406.1,371.7M377,352.8L408,356.3M404.1,355.9L406.1,360.8M377,342.2L408,345M404.2,344.6L406.2,349.5M376.9,331.5L408.1,333.7M404.2,333.4L406.3,338.3M376.9,320.8L408.1,322.5M404.2,322.3L406.4,327.1M376.9,310.4L408.1,311M408.1,311L413,320.5M376.9,300.3L408.1,299.2M408.1,299.2L413.4,308.4M377,290.1L408,287.4M408,287.4L413.9,296.4M377.1,280.2L407.9,275.3M404.1,276L407.3,280.2M377.3,270.5L407.7,263.1M403.9,264.1L407.4,268.1M377.9,261.4L407.1,250.3M403.4,251.7L407.5,255.2M379.1,252.9L405.9,236.8M402.5,238.9L407.1,241.6M406.6,240.5L378.4,227.3M381.9,229L381.6,223.6M407.9,225.7L377.1,220.2M381,220.9L379.3,215.8M407.9,214.4L377.1,209.5M380.9,210.1L379.2,205.1M407.9,203.2L377.1,198.8M377.1,198.8L373.4,188.8M408,191.7L377,188.4M377,188.4L373,178.5M408.1,180.2L376.9,178M376.9,178L372.6,168.2M380.8,178.3L378.7,173.4M408.1,169.2L376.9,167M376.9,167L372.6,157.2M380.8,167.3L378.7,162.4M408.1,158.2L376.9,156.1M376.9,156.1L372.6,146.3M380.8,156.3L376.5,146.5M408.1,147.3L376.9,145.1M376.9,145.1L372.6,135.3M380.8,145.4L376.5,135.6M408.1,136.3L376.9,134.1M376.9,134.1L372.6,124.3M380.8,134.4L376.5,124.6M384.7,134.7L382.5,129.8M408.1,125.3L376.9,123.1M376.9,123.1L372.6,113.4M380.8,123.4L376.5,113.6M384.7,123.7L382.5,118.8M408.1,114.4L376.9,112.2M376.9,112.2L372.6,102.4M380.8,112.5L376.5,102.7M384.7,112.7L382.5,107.8M436.9,407.9L467.5,413.9M436.9,395.5L467.5,401.4M442,375.7L462.5,399.2M436.8,378.9L467.6,374.1M436.7,364.3L467.8,366.8M436.8,352.3L467.7,356.9M463.8,356.3L465.6,361.3M436.9,340.7L467.5,346.5M463.7,345.8L465.3,350.9M437,329.4L467.5,335.8M463.7,335L465.2,340.2M436.7,320.1L467.7,323.2M463.9,322.8L465.9,327.8M436.6,309.9L467.8,311.5M463.9,311.3L466.2,316.2M436.6,300.5L467.8,298.9M463.9,299.1L466.7,303.7M436.7,290.5L467.7,287M463.9,287.5L466.9,291.9M436.9,280.5L467.6,275.1M463.7,275.8L467,280M437.1,270.7L467.3,262.9M463.6,263.9L467.2,267.9M438.1,262.4L466.4,249.3M462.8,250.9L467.1,254.1M443.5,257.8L460.9,231.9M458.8,235.2L464.1,235.7M460.9,246.8L443.5,221M445.7,224.2L448.2,219.5M466.9,228.3L437.6,217.6M441.2,218.9L440.5,213.6M467.6,214.7L436.9,209.3M440.7,209.9L439,204.9M467.7,202.6L436.7,199.4M436.7,199.4L432.7,189.5M467.8,191.4L436.7,188.7M436.7,188.7L432.5,178.8M440.6,189L438.5,184.1M467.8,180.2L436.7,178M436.7,178L432.3,168.2M440.6,178.3L438.4,173.4M467.8,169.2L436.7,167M436.7,167L432.3,157.2M440.6,167.3L438.4,162.4M467.8,158.2L436.7,156.1M436.7,156.1L432.3,146.3M440.6,156.3L436.2,146.5M467.8,146.7L436.6,145.6M436.6,145.6L431.9,136M440.5,145.8L435.8,136.1M444.4,145.9L442.1,141.1M467.8,135.7L436.6,134.7M436.6,134.7L431.9,125M440.5,134.8L435.8,125.2M444.4,134.9L442.1,130.1M467.8,124.8L436.6,123.7M436.6,123.7L431.9,114.1M440.5,123.8L435.8,114.2M444.4,124L442.1,119.2M467.8,113.8L436.6,112.7M436.6,112.7L431.9,103.1M440.5,112.9L435.8,103.2M444.4,113L442.1,108.2M503.5,397.8L520.4,424M500.5,387.8L523.4,409.1M499.2,378.5L524.7,396.4M496.7,379.7L527.2,373.3M496.4,364.7L527.5,366.3M496.5,352.4L527.4,356.7M496.7,340.3L527.2,346.8M497.8,326L526.1,339.2M496.5,319.8L527.4,323.6M496.4,310.4L527.5,311M523.6,310.9L526.1,315.7M496.4,301.4L527.5,298.1M523.6,298.5L526.6,302.9M497.2,293.9L526.7,283.6M523,284.9L526.9,288.5M504.9,291.7L519,263.9M517.3,267.4L522.6,267.3M522.6,278.2L501.3,255.4M504,258.3L505.7,253.2M525.2,264.1L498.7,247.6M502,249.6L502.4,244.3M526.9,249.4L497,240.3M500.8,241.5L499.7,236.2M527.1,237.7L496.8,230.1M500.6,231.1L499.3,225.9M527.3,225.9L496.6,220M500.5,220.8L498.9,215.6M527.5,213.5L496.4,210.4M496.4,210.4L492.4,200.5M527.5,201.8L496.4,200.2M496.4,200.2L491.8,190.5M527.5,190.9L496.4,189.2M496.4,189.2L491.8,179.5M500.3,189.4L498,184.6M527.5,179.9L496.4,178.3M496.4,178.3L491.8,168.6M500.3,178.5L498,173.6M527.5,168.9L496.4,167.3M496.4,167.3L491.8,157.6M500.3,167.5L495.7,157.8M527.5,158L496.4,156.3M496.4,156.3L491.8,146.6M500.3,156.5L495.7,146.8M527.5,147L496.4,145.4M496.4,145.4L491.8,135.7M500.3,145.6L495.7,135.9M504.2,145.8L501.9,140.9M527.5,136L496.4,134.4M496.4,134.4L491.8,124.7M500.3,134.6L495.7,124.9M504.2,134.8L501.9,129.9M527.5,125.1L496.4,123.4M496.4,123.4L491.8,113.7M500.3,123.6L495.7,113.9M504.2,123.8L501.9,119M527.5,114.1L496.4,112.5M496.4,112.5L491.8,102.8M500.3,112.7L495.7,103M504.2,112.9L501.9,108M558.4,402.6L584.9,419.2M558.1,390.7L585.2,406.2M557.4,381.1L585.9,393.8M557.3,370.4L586,382.6M564.5,351.7L578.8,379.4M556.4,346.8L586.9,340.3M556.8,337.2L586.6,328.1M556.2,323.3L587.2,320M556.1,310.4L587.3,311M556.6,303.6L586.8,295.8M583,296.8L586.6,300.8M581.1,301.2L562.3,276.3M564.6,279.4L566.9,274.6M586.1,283.6L557.2,271.9M560.8,273.4L560.3,268.1M586.4,271.9L556.9,261.7M560.6,263L559.8,257.7M587,258.6L556.3,253.1M560.2,253.8L558.5,248.7M587.1,247.2L556.2,242.6M556.2,242.6L552.7,232.5M587.1,236.2L556.2,231.6M556.2,231.6L552.7,221.5M587.2,224.6L556.2,221.3M556.2,221.3L552.2,211.4M587.2,213.2L556.1,210.7M556.1,210.7L551.9,200.9M587.3,201.8L556.1,200.2M556.1,200.2L551.6,190.5M560,200.4L557.7,195.5M587.3,190.9L556.1,189.2M556.1,189.2L551.6,179.5M560,189.4L557.7,184.6M587.3,179.9L556.1,178.3M556.1,178.3L551.6,168.6M560,178.5L555.5,168.8M587.3,168.9L556.1,167.3M556.1,167.3L551.6,157.6M560,167.5L555.5,157.8M587.3,158L556.1,156.3M556.1,156.3L551.6,146.6M560,156.5L555.5,146.8M587.3,147L556.1,145.4M556.1,145.4L551.6,135.7M560,145.6L555.5,135.9M587.3,136L556.1,134.4M556.1,134.4L551.6,124.7M560,134.6L555.5,124.9M587.3,125.1L556.1,123.4M556.1,123.4L551.6,113.7M560,123.6L555.5,113.9M563.9,123.8L561.6,119M587.3,114.1L556.1,112.5M556.1,112.5L551.6,102.8M560,112.7L555.5,103M563.9,112.9L561.6,108M646.8,413.6L616,408.2M619.9,408.9L618.2,403.8M646.8,401.1L616,395.7M619.9,396.4L618.2,391.3M646.7,390.4L616.1,384.5M619.9,385.2L618.4,380.1M646.6,380L616.2,373M620,373.9L618.6,368.7M646.2,370.3L616.6,360.7M620.3,361.9L619.3,356.6M645.8,360.7L617,348.5M646.9,345.5L615.9,341.7M647,333.3L615.8,331.9M646.8,324.2L616,319.1M619.9,319.7L618.2,314.7M646.6,314.2L616.2,307.2M620,308.1L618.6,302.9M646.3,304.2L616.5,295.2M620.2,296.3L619.2,291.1M646.5,292.5L616.3,285M620,285.9L618.8,280.7M646.6,281.3L616.2,274.3M620,275.2L618.6,270M646.8,269.5L616,264.1M616,264.1L612.7,253.9M646.9,257.5L615.9,254.2M615.9,254.2L611.9,244.3M646.9,246.2L615.9,243.5M615.9,243.5L611.7,233.7M646.9,235.3L615.9,232.6M615.9,232.6L611.7,222.7M619.7,232.9L617.7,228M646.9,224.3L615.9,221.6M615.9,221.6L611.7,211.7M619.7,221.9L617.7,217M646.9,213.3L615.9,210.6M615.9,210.6L611.7,200.8M619.7,211L617.7,206M646.9,202.4L615.9,199.7M615.9,199.7L611.7,189.8M619.7,200L617.7,195.1M646.9,191.4L615.9,188.7M615.9,188.7L611.7,178.8M619.7,189L617.7,184.1M646.9,180.4L615.9,177.7M615.9,177.7L611.7,167.9M619.7,178.1L615.6,168.2M646.9,169.5L615.9,166.7M615.9,166.7L611.7,156.9M619.7,167.1L615.6,157.2M646.9,158.5L615.9,155.8M615.9,155.8L611.7,145.9M619.7,156.1L615.6,146.3M646.9,147.5L615.9,144.8M615.9,144.8L611.7,135M619.7,145.2L615.6,135.3M646.9,136.6L615.9,133.8M615.9,133.8L611.7,124M619.7,134.2L615.6,124.3M646.9,125.6L615.9,122.9M615.9,122.9L611.7,113M619.7,123.2L615.6,113.4M623.6,123.6L621.5,118.6M646.9,114.6L615.9,111.9M615.9,111.9L611.7,102.1M619.7,112.2L615.6,102.4M623.6,112.6L621.5,107.7M706.5,413.3L675.7,408.5M679.6,409.1L677.8,404M706.5,401L675.7,395.9M675.7,395.9L672.3,385.7M706.1,391.9L676.2,383.1M679.9,384.2L678.8,378.9M706,381.1L676.2,371.9M679.9,373.1L678.9,367.8M706.5,367.9L675.7,363.2M679.6,363.8L677.8,358.7M706.7,355.6L675.6,353.5M679.5,353.8L677.3,348.9M706.7,343.8L675.5,343.4M706.7,333.2L675.5,332.1M706.5,324.4L675.8,318.9M706.6,312.4L675.6,309M679.5,309.4L677.5,304.4M706.6,301.3L675.6,298.1M679.5,298.5L677.5,293.6M706.6,290.3L675.6,287.2M679.5,287.6L677.5,282.6M706.6,279.7L675.6,275.9M675.6,275.9L671.8,265.9M706.6,268.6L675.6,265M675.6,265L671.7,255.1M706.7,256.8L675.6,254.9M675.6,254.9L671.1,245.2M706.7,245.4L675.5,244.3M675.5,244.3L670.8,234.7M679.4,244.5L677.1,239.7M706.7,234.5L675.5,233.4M675.5,233.4L670.8,223.8M679.4,233.5L677.1,228.7M706.7,223.5L675.5,222.4M675.5,222.4L670.8,212.8M679.4,222.5L677.1,217.7M706.7,212.8L675.5,211.2M675.5,211.2L671,201.5M679.4,211.4L674.9,201.7M706.7,202.1L675.6,199.9M675.6,199.9L671.2,190.1M679.5,200.2L675.1,190.4M706.7,191.3L675.6,188.8M675.6,188.8L671.3,179M679.5,189.1L675.2,179.3M706.7,180.3L675.6,177.9M675.6,177.9L671.3,168M679.5,178.2L675.2,168.3M706.7,169.3L675.6,166.9M675.6,166.9L671.3,157.1M679.5,167.2L675.2,157.4M706.7,158.4L675.6,155.9M675.6,155.9L671.3,146.1M679.5,156.2L675.2,146.4M706.7,147.4L675.6,144.9M675.6,144.9L671.3,135.1M679.5,145.3L675.2,135.4M706.7,136.6L675.6,133.8M675.6,133.8L671.4,124M679.5,134.2L675.3,124.3M683.4,134.5L681.3,129.6M706.7,125.6L675.6,122.9M675.6,122.9L671.4,113M679.5,123.2L675.3,113.4M683.4,123.6L681.3,118.6M706.7,114.6L675.6,111.9M675.6,111.9L671.4,102.1M679.5,112.2L675.3,102.4M683.4,112.6L681.3,107.7M766.3,413.1L735.4,408.7M739.3,409.3L737.4,404.2M766.3,400.5L735.4,396.3M735.4,396.3L731.7,386.3M765.7,392.4L736,382.5M736,382.5L734.3,372M765.4,382.1L736.3,370.9M739.9,372.3L739.3,367M765.8,370.1L735.9,361M739.7,362.1L738.6,356.9M766.3,356.7L735.4,352.4M739.3,353L737.4,348M766.4,345.2L735.3,342M739.2,342.4L737.2,337.5M766.4,333.7L735.3,331.6M766.4,321.9L735.3,321.4M766.4,311.2L735.3,310.1M739.2,310.3L736.8,305.5M766.4,300.3L735.3,299.2M739.2,299.3L736.8,294.5M766.4,289.8L735.3,287.7M735.3,287.7L730.9,278M766.4,278.6L735.3,277M735.3,277L730.7,267.3M766.4,267.6L735.3,266M735.3,266L730.7,256.3M739.2,266.2L736.9,261.4M766.4,256.5L735.3,255.2M735.3,255.2L730.6,245.6M739.2,255.4L736.8,250.6M766.4,245.6L735.3,244.2M735.3,244.2L730.7,234.5M739.2,244.4L734.6,234.7M766.4,234.6L735.3,233.2M735.3,233.2L730.7,223.6M739.2,233.4L734.6,223.7M766.4,223.8L735.3,222.1M735.3,222.1L730.7,212.4M739.2,222.3L734.6,212.6M766.4,213.1L735.3,210.9M735.3,210.9L730.9,201.1M739.2,211.2L737,206.3M766.4,202.1L735.3,199.9M735.3,199.9L730.9,190.1M739.2,200.2L737,195.3M766.4,191.2L735.3,188.9M735.3,188.9L731,179.1M739.2,189.2L734.9,179.4M766.4,180.2L735.3,177.9M735.3,177.9L731,168.1M739.2,178.2L734.9,168.4M766.4,169.3L735.3,166.9M735.3,166.9L731,157.1M739.2,167.2L734.9,157.4M766.4,158.3L735.3,156M735.3,156L731,146.2M739.2,156.3L734.9,146.5M766.4,147.3L735.3,145M735.3,145L731,135.2M739.2,145.3L734.9,135.5M766.4,136.4L735.3,134M735.3,134L731,124.2M739.2,134.3L734.9,124.5M766.4,125.4L735.3,123.1M735.3,123.1L731,113.3M739.2,123.4L734.9,113.6M743.1,123.7L740.9,118.8M766.4,114.4L735.3,112.1M735.3,112.1L731,102.3M739.2,112.4L734.9,102.6M743.1,112.7L740.9,107.8M826,413.1L795.1,408.7M799,409.3L797.2,404.2M826,400.5L795.1,396.3M795.1,396.3L791.4,386.3M825.5,392.2L795.7,382.8M799.4,383.9L798.4,378.7M823.2,385.7L798,367.3M801.1,369.6L801.9,364.3M825.1,371.2L796.1,359.8M825.2,359.9L795.9,349.2M799.6,350.6L798.8,345.3M825.4,348.6L795.8,338.6M799.5,339.9L798.6,334.6M823.7,341.1L797.5,324.1M826.1,323L795,320.3M826.1,312.4L795.1,309M798.9,309.4L797,304.4M826.1,301L795,298.5M798.9,298.8L796.8,293.9M826.1,289.8L795,287.7M795,287.7L790.7,277.9M826.1,278.9L795,276.7M795,276.7L790.7,266.9M798.9,277L796.7,272.1M826.2,267.6L795,266M795,266L790.5,256.3M798.9,266.2L796.6,261.4M826.2,256.4L795,255.3M795,255.3L790.3,245.7M798.9,255.4L796.5,250.6M826.2,245.4L795,244.3M795,244.3L790.3,234.7M798.9,244.5L796.5,239.7M826.2,234.5L795,233.4M795,233.4L790.3,223.8M798.9,233.5L796.5,228.7M826.1,224L795,221.9M795,221.9L790.6,212.2M798.9,222.2L796.7,217.3M826.1,213.6L795.1,210.4M795.1,210.4L791,200.5M798.9,210.8L796.9,205.8M826.1,202.7L795.1,199.3M795.1,199.3L791.1,189.4M798.9,199.7L797,194.8M826.1,191.4L795,188.7M795,188.7L790.9,178.8M798.9,189L794.7,179.2M826.1,180.2L795,177.9M795,177.9L790.7,168.1M798.9,178.2L794.6,168.4M826.1,169.3L795,166.9M795,166.9L790.7,157.1M798.9,167.2L794.6,157.4M826.1,158.3L795,156M795,156L790.7,146.2M798.9,156.3L794.6,146.5M826.1,147.3L795,145M795,145L790.7,135.2M798.9,145.3L794.6,135.5M826.1,136.4L795,134M795,134L790.7,124.2M798.9,134.3L794.6,124.5M826.1,125.4L795,123.1M795,123.1L790.7,113.3M798.9,123.4L794.6,113.6M802.8,123.7L800.6,118.8M826.1,114.4L795,112.1M795,112.1L790.7,102.3M798.9,112.4L794.6,102.6M802.8,112.7L800.6,107.8M885.6,414.1L855,407.7M858.9,408.5L857.4,403.3M885.6,401.7L855,395.2M858.9,396L857.4,390.9M885,392.8L855.6,382.1M859.3,383.5L858.6,378.2M884.2,383.6L856.4,369.4M859.9,371.2L859.8,365.8M885,370.9L855.6,360.2M859.3,361.5L858.6,356.2M882.3,364.6L858.3,344.5M884.9,338L855.7,349.2M883.8,324.8L856.8,340.4M885,327L855.6,316.3M884.7,316.7L855.9,304.7M859.5,306.2L859,300.9M885.1,304.5L855.5,294.9M859.2,296.1L858.2,290.8M885.8,290.4L854.8,287.1M854.8,287.1L850.8,277.2M885.7,280L854.9,275.6M854.9,275.6L851.2,265.6M885.7,269L854.9,264.6M858.7,265.2L856.9,260.2M884.7,261.9L855.9,249.8M859.5,251.3L859.1,245.9M885,250.2L855.6,239.5M855.6,239.5L854.2,229M885.4,238L855.2,229.9M855.2,229.9L852.8,219.5M885.6,226.2L855,219.7M855,219.7L852.1,209.4M858.9,220.5L857.4,215.4M885.8,213.3L854.8,210.6M854.8,210.6L850.6,200.8M858.6,211L856.6,206M885.8,202.4L854.8,199.7M854.8,199.7L850.6,189.8M858.6,200L856.6,195.1M885.9,191.1L854.7,189M854.7,189L850.4,179.2M858.6,189.2L854.3,179.5M885.9,180.2L854.7,178M854.7,178L850.4,168.2M858.6,178.3L854.3,168.5M885.9,169.2L854.7,167M854.7,167L850.4,157.2M858.6,167.3L854.3,157.5M885.9,158L854.7,156.3M854.7,156.3L850.2,146.6M858.6,156.5L854.1,146.8M885.9,147L854.7,145.4M854.7,145.4L850.2,135.7M858.6,145.6L854.1,135.9M862.5,145.8L860.2,140.9M885.9,136L854.7,134.4M854.7,134.4L850.2,124.7M858.6,134.6L854.1,124.9M862.5,134.8L860.2,129.9M885.9,125.1L854.7,123.4M854.7,123.4L850.2,113.7M858.6,123.6L854.1,113.9M862.5,123.8L860.2,119M885.9,114.1L854.7,112.5M854.7,112.5L850.2,102.8M858.6,112.7L854.1,103M862.5,112.9L860.2,108" fill="none" stroke="#000" stroke-opacity=".9" stroke-width=".72"/>
<circle cx="273" cy="398.4" r="4.7" fill="none" stroke="#000" stroke-opacity=".85" stroke-width="1"/>
<circle cx="571.7" cy="354.6" r="4.7" fill="none" stroke="#000" stroke-opacity=".85" stroke-width="1"/>
</g>
<path d="M153.6,409.4h24M870.3,409.4h-24M153.6,365.5h24M870.3,365.5h-24M153.6,321.7h24M870.3,321.7h-24M153.6,277.8h24M870.3,277.8h-24M153.6,233.9h24M870.3,233.9h-24M153.6,190h24M870.3,190h-24M153.6,146.2h24M870.3,146.2h-24M153.6,102.3h24M870.3,102.3h-24" stroke="#000" stroke-width="1.5" fill="none"/>
<path d="M213.3,102.3v11M213.3,409.4v-11M273,102.3v11M273,409.4v-11M332.8,102.3v11M332.8,409.4v-11M392.5,102.3v11M392.5,409.4v-11M452.2,102.3v11M452.2,409.4v-11M511.9,102.3v11M511.9,409.4v-11M571.7,102.3v11M571.7,409.4v-11M631.4,102.3v11M631.4,409.4v-11M691.1,102.3v11M691.1,409.4v-11M750.8,102.3v11M750.8,409.4v-11M810.6,102.3v11M810.6,409.4v-11" stroke="#000" stroke-width="1.25" fill="none"/>
<rect x="153.6" y="102.3" width="716.7" height="307.1" fill="none" stroke="#000" stroke-width="1.25"/>
<text x="143.6" y="414.4" font-size="14.1" text-anchor="end">0</text>
<text x="143.6" y="370.5" font-size="14.1" text-anchor="end">4</text>
<text x="143.6" y="326.7" font-size="14.1" text-anchor="end">8</text>
<text x="143.6" y="282.8" font-size="14.1" text-anchor="end">12</text>
<text x="143.6" y="238.9" font-size="14.1" text-anchor="end">16</text>
<text x="143.6" y="195" font-size="14.1" text-anchor="end">20</text>
<text x="143.6" y="151.2" font-size="14.1" text-anchor="end">24</text>
<text x="143.6" y="107.3" font-size="14.1" text-anchor="end">28</text>
<text transform="translate(152.9,433.2) rotate(-45)" font-size="12" text-anchor="middle" y="4.3">17_12</text>
<text transform="translate(212.6,433.2) rotate(-45)" font-size="12" text-anchor="middle" y="4.3">17_15</text>
<text transform="translate(272.3,433.2) rotate(-45)" font-size="12" text-anchor="middle" y="4.3">17_18</text>
<text transform="translate(332.1,433.2) rotate(-45)" font-size="12" text-anchor="middle" y="4.3">17_21</text>
<text transform="translate(391.8,433.2) rotate(-45)" font-size="12" text-anchor="middle" y="4.3">18_00</text>
<text transform="translate(451.5,433.2) rotate(-45)" font-size="12" text-anchor="middle" y="4.3">18_03</text>
<text transform="translate(511.2,433.2) rotate(-45)" font-size="12" text-anchor="middle" y="4.3">18_06</text>
<text transform="translate(571,433.2) rotate(-45)" font-size="12" text-anchor="middle" y="4.3">18_09</text>
<text transform="translate(630.7,433.2) rotate(-45)" font-size="12" text-anchor="middle" y="4.3">18_12</text>
<text transform="translate(690.4,433.2) rotate(-45)" font-size="12" text-anchor="middle" y="4.3">18_15</text>
<text transform="translate(750.1,433.2) rotate(-45)" font-size="12" text-anchor="middle" y="4.3">18_18</text>
<text transform="translate(809.9,433.2) rotate(-45)" font-size="12" text-anchor="middle" y="4.3">18_21</text>
<text transform="translate(869.6,433.2) rotate(-45)" font-size="12" text-anchor="middle" y="4.3">19_00</text>
<g stroke="#fff" stroke-opacity=".3" stroke-width=".5">
<rect x="890.9" y="395.46" width="19.5" height="2.94" fill="#831fef"/>
<rect x="890.9" y="392.52" width="19.5" height="2.94" fill="#701cf2"/>
<rect x="890.9" y="389.58" width="19.5" height="2.94" fill="#6118f1"/>
<rect x="890.9" y="386.64" width="19.5" height="2.94" fill="#5012f0"/>
<rect x="890.9" y="383.69" width="19.5" height="2.94" fill="#3e0cee"/>
<rect x="890.9" y="380.75" width="19.5" height="2.94" fill="#2d08f2"/>
<rect x="890.9" y="377.81" width="19.5" height="2.94" fill="#1b04f6"/>
<rect x="890.9" y="374.87" width="19.5" height="2.94" fill="#0a00fa"/>
<rect x="890.9" y="371.93" width="19.5" height="2.94" fill="#0500fb"/>
<rect x="890.9" y="368.99" width="19.5" height="2.94" fill="#0000fc"/>
<rect x="890.9" y="366.05" width="19.5" height="2.94" fill="#070af6"/>
<rect x="890.9" y="363.11" width="19.5" height="2.94" fill="#0d14f1"/>
<rect x="890.9" y="360.16" width="19.5" height="2.94" fill="#141eeb"/>
<rect x="890.9" y="357.22" width="19.5" height="2.94" fill="#1b29e9"/>
<rect x="890.9" y="354.28" width="19.5" height="2.94" fill="#2333e8"/>
<rect x="890.9" y="351.34" width="19.5" height="2.94" fill="#2a3ee6"/>
<rect x="890.9" y="348.40" width="19.5" height="2.94" fill="#2d48e7"/>
<rect x="890.9" y="345.46" width="19.5" height="2.94" fill="#3052e8"/>
<rect x="890.9" y="342.52" width="19.5" height="2.94" fill="#315bea"/>
<rect x="890.9" y="339.58" width="19.5" height="2.94" fill="#3264eb"/>
<rect x="890.9" y="336.63" width="19.5" height="2.94" fill="#2e6eee"/>
<rect x="890.9" y="333.69" width="19.5" height="2.94" fill="#2a78f2"/>
<rect x="890.9" y="330.75" width="19.5" height="2.94" fill="#247df4"/>
<rect x="890.9" y="327.81" width="19.5" height="2.94" fill="#1e82f6"/>
<rect x="890.9" y="324.87" width="19.5" height="2.94" fill="#1887f8"/>
<rect x="890.9" y="321.93" width="19.5" height="2.94" fill="#128cfa"/>
<rect x="890.9" y="318.99" width="19.5" height="2.94" fill="#0e93fa"/>
<rect x="890.9" y="316.05" width="19.5" height="2.94" fill="#0b9afb"/>
<rect x="890.9" y="313.10" width="19.5" height="2.94" fill="#07a1fb"/>
<rect x="890.9" y="310.16" width="19.5" height="2.94" fill="#04a8fc"/>
<rect x="890.9" y="307.22" width="19.5" height="2.94" fill="#00affc"/>
<rect x="890.9" y="304.28" width="19.5" height="2.94" fill="#00b6fe"/>
<rect x="890.9" y="301.34" width="19.5" height="2.94" fill="#00beff"/>
<rect x="890.9" y="298.40" width="19.5" height="2.94" fill="#0fbffc"/>
<rect x="890.9" y="295.46" width="19.5" height="2.94" fill="#1ec0fa"/>
<rect x="890.9" y="292.52" width="19.5" height="2.94" fill="#2dc2f8"/>
<rect x="890.9" y="289.57" width="19.5" height="2.94" fill="#3cc3f5"/>
<rect x="890.9" y="286.63" width="19.5" height="2.94" fill="#52c6f2"/>
<rect x="890.9" y="283.69" width="19.5" height="2.94" fill="#69c8f0"/>
<rect x="890.9" y="280.75" width="19.5" height="2.94" fill="#80caee"/>
<rect x="890.9" y="277.81" width="19.5" height="2.94" fill="#96cdeb"/>
<rect x="890.9" y="274.87" width="19.5" height="2.94" fill="#9ed1ed"/>
<rect x="890.9" y="271.93" width="19.5" height="2.94" fill="#a6d5ee"/>
<rect x="890.9" y="268.99" width="19.5" height="2.94" fill="#aed9f0"/>
<rect x="890.9" y="266.04" width="19.5" height="2.94" fill="#b5dcf1"/>
<rect x="890.9" y="263.10" width="19.5" height="2.94" fill="#bde0f3"/>
<rect x="890.9" y="260.16" width="19.5" height="2.94" fill="#c5e4f4"/>
<rect x="890.9" y="257.22" width="19.5" height="2.94" fill="#cde8f6"/>
<rect x="890.9" y="254.28" width="19.5" height="2.94" fill="#ffffc8"/>
<rect x="890.9" y="251.34" width="19.5" height="2.94" fill="#fffcb6"/>
<rect x="890.9" y="248.40" width="19.5" height="2.94" fill="#fffaa5"/>
<rect x="890.9" y="245.46" width="19.5" height="2.94" fill="#fff894"/>
<rect x="890.9" y="242.51" width="19.5" height="2.94" fill="#fff582"/>
<rect x="890.9" y="239.57" width="19.5" height="2.94" fill="#fff06e"/>
<rect x="890.9" y="236.63" width="19.5" height="2.94" fill="#ffec5b"/>
<rect x="890.9" y="233.69" width="19.5" height="2.94" fill="#ffe748"/>
<rect x="890.9" y="230.75" width="19.5" height="2.94" fill="#ffe234"/>
<rect x="890.9" y="227.81" width="19.5" height="2.94" fill="#ffdd30"/>
<rect x="890.9" y="224.87" width="19.5" height="2.94" fill="#ffd92d"/>
<rect x="890.9" y="221.93" width="19.5" height="2.94" fill="#ffd429"/>
<rect x="890.9" y="218.98" width="19.5" height="2.94" fill="#ffcf25"/>
<rect x="890.9" y="216.04" width="19.5" height="2.94" fill="#ffcb22"/>
<rect x="890.9" y="213.10" width="19.5" height="2.94" fill="#ffc61e"/>
<rect x="890.9" y="210.16" width="19.5" height="2.94" fill="#ffbe19"/>
<rect x="890.9" y="207.22" width="19.5" height="2.94" fill="#ffb614"/>
<rect x="890.9" y="204.28" width="19.5" height="2.94" fill="#ffae0f"/>
<rect x="890.9" y="201.34" width="19.5" height="2.94" fill="#ffa60a"/>
<rect x="890.9" y="198.40" width="19.5" height="2.94" fill="#ff9e05"/>
<rect x="890.9" y="195.45" width="19.5" height="2.94" fill="#ff9600"/>
<rect x="890.9" y="192.51" width="19.5" height="2.94" fill="#ff8e00"/>
<rect x="890.9" y="189.57" width="19.5" height="2.94" fill="#ff8500"/>
<rect x="890.9" y="186.63" width="19.5" height="2.94" fill="#ff7d00"/>
<rect x="890.9" y="183.69" width="19.5" height="2.94" fill="#ff7500"/>
<rect x="890.9" y="180.75" width="19.5" height="2.94" fill="#ff6c00"/>
<rect x="890.9" y="177.81" width="19.5" height="2.94" fill="#ff6400"/>
<rect x="890.9" y="174.87" width="19.5" height="2.94" fill="#ff5500"/>
<rect x="890.9" y="171.92" width="19.5" height="2.94" fill="#ff4600"/>
<rect x="890.9" y="168.98" width="19.5" height="2.94" fill="#ff3700"/>
<rect x="890.9" y="166.04" width="19.5" height="2.94" fill="#ff2800"/>
<rect x="890.9" y="163.10" width="19.5" height="2.94" fill="#ff1b00"/>
<rect x="890.9" y="160.16" width="19.5" height="2.94" fill="#ff0d00"/>
<rect x="890.9" y="157.22" width="19.5" height="2.94" fill="#ff0000"/>
<rect x="890.9" y="154.28" width="19.5" height="2.94" fill="#f70000"/>
<rect x="890.9" y="151.34" width="19.5" height="2.94" fill="#ef0000"/>
<rect x="890.9" y="148.39" width="19.5" height="2.94" fill="#e70000"/>
<rect x="890.9" y="145.45" width="19.5" height="2.94" fill="#df0000"/>
<rect x="890.9" y="142.51" width="19.5" height="2.94" fill="#d70000"/>
<rect x="890.9" y="139.57" width="19.5" height="2.94" fill="#cf0000"/>
<rect x="890.9" y="136.63" width="19.5" height="2.94" fill="#c60000"/>
<rect x="890.9" y="133.69" width="19.5" height="2.94" fill="#be0000"/>
<rect x="890.9" y="130.75" width="19.5" height="2.94" fill="#c51111"/>
<rect x="890.9" y="127.81" width="19.5" height="2.94" fill="#cd2323"/>
<rect x="890.9" y="124.86" width="19.5" height="2.94" fill="#d43434"/>
<rect x="890.9" y="121.92" width="19.5" height="2.94" fill="#df5454"/>
<rect x="890.9" y="118.98" width="19.5" height="2.94" fill="#ea7575"/>
<rect x="890.9" y="116.04" width="19.5" height="2.94" fill="#f49696"/>
<rect x="890.9" y="113.10" width="19.5" height="2.94" fill="#ffb6b6"/>
</g>
<text x="929.3" y="389.6" font-size="16.3">-56</text>
<text x="929.3" y="369" font-size="16.3">-49</text>
<text x="929.3" y="348.4" font-size="16.3">-42</text>
<text x="929.3" y="327.8" font-size="16.3">-35</text>
<text x="929.3" y="307.2" font-size="16.3">-28</text>
<text x="929.3" y="286.7" font-size="16.3">-21</text>
<text x="929.3" y="266.1" font-size="16.3">-14</text>
<text x="929.3" y="245.5" font-size="16.3">-7</text>
<text x="929.3" y="224.9" font-size="16.3">0</text>
<text x="929.3" y="204.3" font-size="16.3">7</text>
<text x="929.3" y="183.7" font-size="16.3">14</text>
<text x="929.3" y="163.1" font-size="16.3">21</text>
<text x="929.3" y="142.5" font-size="16.3">28</text>
<text x="929.3" y="121.9" font-size="16.3">35</text>
<path d="M153.6,548.3H870.3M153.6,533.7H870.3M153.6,519.1H870.3M153.6,504.5H870.3M153.6,489.9H870.3M153.6,475.3H870.3M204.8,562.9V460.7M256,562.9V460.7M307.2,562.9V460.7M358.4,562.9V460.7M409.6,562.9V460.7M460.8,562.9V460.7M511.9,562.9V460.7M563.1,562.9V460.7M614.3,562.9V460.7M665.5,562.9V460.7M716.7,562.9V460.7M767.9,562.9V460.7M819.1,562.9V460.7" stroke="#000" stroke-opacity=".72" stroke-width=".7" stroke-dasharray="4 5.6" fill="none"/>
<polyline points="204.8,467.9 256,480 307.2,506 358.4,523 409.6,537.6 460.8,540.1 511.9,553.8 563.1,547.9 614.3,530.3 665.5,519.1 716.7,516.6 767.9,507.9 819.1,509.9" fill="none" stroke="#0000ff" stroke-width="1.2"/>
<path d="M153.6,562.9h-14M870.3,562.9h14.3M153.6,548.3h-14M870.3,548.3h14.3M153.6,533.7h-14M870.3,533.7h14.3M153.6,519.1h-14M870.3,519.1h14.3M153.6,504.5h-14M870.3,504.5h14.3M153.6,489.9h-14M870.3,489.9h14.3M153.6,475.3h-14M870.3,475.3h14.3M153.6,460.7h-14M870.3,460.7h14.3M204.8,562.9v14M256,562.9v14M307.2,562.9v14M358.4,562.9v14M409.6,562.9v14M460.8,562.9v14M511.9,562.9v14M563.1,562.9v14M614.3,562.9v14M665.5,562.9v14M716.7,562.9v14M767.9,562.9v14M819.1,562.9v14" stroke="#000" stroke-width="1.2" fill="none"/>
<path d="M153.6,560h-7M870.3,560h7.3M153.6,557.1h-7M870.3,557.1h7.3M153.6,554.1h-7M870.3,554.1h7.3M153.6,551.2h-7M870.3,551.2h7.3M153.6,545.4h-7M870.3,545.4h7.3M153.6,542.5h-7M870.3,542.5h7.3M153.6,539.5h-7M870.3,539.5h7.3M153.6,536.6h-7M870.3,536.6h7.3M153.6,530.8h-7M870.3,530.8h7.3M153.6,527.9h-7M870.3,527.9h7.3M153.6,524.9h-7M870.3,524.9h7.3M153.6,522h-7M870.3,522h7.3M153.6,516.2h-7M870.3,516.2h7.3M153.6,513.3h-7M870.3,513.3h7.3M153.6,510.3h-7M870.3,510.3h7.3M153.6,507.4h-7M870.3,507.4h7.3M153.6,501.6h-7M870.3,501.6h7.3M153.6,498.7h-7M870.3,498.7h7.3M153.6,495.7h-7M870.3,495.7h7.3M153.6,492.8h-7M870.3,492.8h7.3M153.6,487h-7M870.3,487h7.3M153.6,484.1h-7M870.3,484.1h7.3M153.6,481.1h-7M870.3,481.1h7.3M153.6,478.2h-7M870.3,478.2h7.3M153.6,472.4h-7M870.3,472.4h7.3M153.6,469.5h-7M870.3,469.5h7.3M153.6,466.5h-7M870.3,466.5h7.3M153.6,463.6h-7M870.3,463.6h7.3" stroke="#000" stroke-opacity=".75" stroke-width=".75" fill="none"/>
<rect x="153.6" y="460.7" width="716.7" height="102.2" fill="none" stroke="#000" stroke-width="1.25"/>
<text x="134" y="566" font-size="8.6" text-anchor="end">1019.0</text>
<text x="134" y="551.4" font-size="8.6" text-anchor="end">1020.0</text>
<text x="134" y="536.8" font-size="8.6" text-anchor="end">1021.0</text>
<text x="134" y="522.2" font-size="8.6" text-anchor="end">1022.0</text>
<text x="134" y="507.6" font-size="8.6" text-anchor="end">1023.0</text>
<text x="134" y="493" font-size="8.6" text-anchor="end">1024.0</text>
<text x="134" y="478.4" font-size="8.6" text-anchor="end">1025.0</text>
<text x="134" y="463.8" font-size="8.6" text-anchor="end">1026.0</text>
<text transform="translate(208,588.8) rotate(-45)" font-size="12.4" text-anchor="middle" y="4.5">17_12</text>
<text transform="translate(259.2,588.8) rotate(-45)" font-size="12.4" text-anchor="middle" y="4.5">17_15</text>
<text transform="translate(310.4,588.8) rotate(-45)" font-size="12.4" text-anchor="middle" y="4.5">17_18</text>
<text transform="translate(361.6,588.8) rotate(-45)" font-size="12.4" text-anchor="middle" y="4.5">17_21</text>
<text transform="translate(412.8,588.8) rotate(-45)" font-size="12.4" text-anchor="middle" y="4.5">18_00</text>
<text transform="translate(464,588.8) rotate(-45)" font-size="12.4" text-anchor="middle" y="4.5">18_03</text>
<text transform="translate(515.1,588.8) rotate(-45)" font-size="12.4" text-anchor="middle" y="4.5">18_06</text>
<text transform="translate(566.3,588.8) rotate(-45)" font-size="12.4" text-anchor="middle" y="4.5">18_09</text>
<text transform="translate(617.5,588.8) rotate(-45)" font-size="12.4" text-anchor="middle" y="4.5">18_12</text>
<text transform="translate(668.7,588.8) rotate(-45)" font-size="12.4" text-anchor="middle" y="4.5">18_15</text>
<text transform="translate(719.9,588.8) rotate(-45)" font-size="12.4" text-anchor="middle" y="4.5">18_18</text>
<text transform="translate(771.1,588.8) rotate(-45)" font-size="12.4" text-anchor="middle" y="4.5">18_21</text>
<text transform="translate(822.3,588.8) rotate(-45)" font-size="12.4" text-anchor="middle" y="4.5">19_00</text>
<text transform="translate(92.2,512.3) rotate(-90) scale(0.957,1)" font-size="25" text-anchor="middle">PMSL</text>
<path d="M153.6,699.6H870.3M153.6,682.5H870.3M153.6,665.5H870.3M153.6,648.5H870.3M153.6,631.4H870.3M204.8,716.6V614.4M256,716.6V614.4M307.2,716.6V614.4M358.4,716.6V614.4M409.6,716.6V614.4M460.8,716.6V614.4M511.9,716.6V614.4M563.1,716.6V614.4M614.3,716.6V614.4M665.5,716.6V614.4M716.7,716.6V614.4M767.9,716.6V614.4M819.1,716.6V614.4" stroke="#000" stroke-opacity=".72" stroke-width=".7" stroke-dasharray="4 5.6" fill="none"/>
<polyline points="204.8,654.1 256,699.8 307.2,702.2 358.4,696.7 409.6,693.9 460.8,653.9 511.9,630.9 563.1,624.1 614.3,663.2 665.5,677.4 716.7,676.3 767.9,682 819.1,693.3" fill="none" stroke="#ff0000" stroke-width="1.2"/>
<path d="M153.6,716.6h-14M870.3,716.6h14.3M153.6,699.6h-14M870.3,699.6h14.3M153.6,682.5h-14M870.3,682.5h14.3M153.6,665.5h-14M870.3,665.5h14.3M153.6,648.5h-14M870.3,648.5h14.3M153.6,631.4h-14M870.3,631.4h14.3M153.6,614.4h-14M870.3,614.4h14.3M204.8,716.6v14M256,716.6v14M307.2,716.6v14M358.4,716.6v14M409.6,716.6v14M460.8,716.6v14M511.9,716.6v14M563.1,716.6v14M614.3,716.6v14M665.5,716.6v14M716.7,716.6v14M767.9,716.6v14M819.1,716.6v14" stroke="#000" stroke-width="1.2" fill="none"/>
<path d="M153.6,710.9h-7M870.3,710.9h7.3M153.6,705.2h-7M870.3,705.2h7.3M153.6,693.9h-7M870.3,693.9h7.3M153.6,688.2h-7M870.3,688.2h7.3M153.6,676.9h-7M870.3,676.9h7.3M153.6,671.2h-7M870.3,671.2h7.3M153.6,659.8h-7M870.3,659.8h7.3M153.6,654.1h-7M870.3,654.1h7.3M153.6,642.8h-7M870.3,642.8h7.3M153.6,637.1h-7M870.3,637.1h7.3M153.6,625.8h-7M870.3,625.8h7.3M153.6,620.1h-7M870.3,620.1h7.3" stroke="#000" stroke-opacity=".75" stroke-width=".75" fill="none"/>
<rect x="153.6" y="614.4" width="716.7" height="102.2" fill="none" stroke="#000" stroke-width="1.25"/>
<text x="134" y="719.6" font-size="8.4" text-anchor="end">-18</text>
<text x="134" y="702.6" font-size="8.4" text-anchor="end">-15</text>
<text x="134" y="685.6" font-size="8.4" text-anchor="end">-12</text>
<text x="134" y="668.5" font-size="8.4" text-anchor="end">-9</text>
<text x="134" y="651.5" font-size="8.4" text-anchor="end">-6</text>
<text x="134" y="634.5" font-size="8.4" text-anchor="end">-3</text>
<text x="134" y="617.4" font-size="8.4" text-anchor="end">0</text>
<text transform="translate(208,742.5) rotate(-45)" font-size="12.4" text-anchor="middle" y="4.5">17_12</text>
<text transform="translate(259.2,742.5) rotate(-45)" font-size="12.4" text-anchor="middle" y="4.5">17_15</text>
<text transform="translate(310.4,742.5) rotate(-45)" font-size="12.4" text-anchor="middle" y="4.5">17_18</text>
<text transform="translate(361.6,742.5) rotate(-45)" font-size="12.4" text-anchor="middle" y="4.5">17_21</text>
<text transform="translate(412.8,742.5) rotate(-45)" font-size="12.4" text-anchor="middle" y="4.5">18_00</text>
<text transform="translate(464,742.5) rotate(-45)" font-size="12.4" text-anchor="middle" y="4.5">18_03</text>
<text transform="translate(515.1,742.5) rotate(-45)" font-size="12.4" text-anchor="middle" y="4.5">18_06</text>
<text transform="translate(566.3,742.5) rotate(-45)" font-size="12.4" text-anchor="middle" y="4.5">18_09</text>
<text transform="translate(617.5,742.5) rotate(-45)" font-size="12.4" text-anchor="middle" y="4.5">18_12</text>
<text transform="translate(668.7,742.5) rotate(-45)" font-size="12.4" text-anchor="middle" y="4.5">18_15</text>
<text transform="translate(719.9,742.5) rotate(-45)" font-size="12.4" text-anchor="middle" y="4.5">18_18</text>
<text transform="translate(771.1,742.5) rotate(-45)" font-size="12.4" text-anchor="middle" y="4.5">18_21</text>
<text transform="translate(822.3,742.5) rotate(-45)" font-size="12.4" text-anchor="middle" y="4.5">19_00</text>
<text transform="translate(105.3,665) rotate(-90) scale(0.948,1)" font-size="25" text-anchor="middle">TEMP at 2 M</text>
<rect x="208" y="885.5" width="54.2" height="66.4" fill="#00ff00"/>
<rect x="263.3" y="819.1" width="54.2" height="132.9" fill="#00ff00"/>
<rect x="318.7" y="885.5" width="54.2" height="66.4" fill="#00ff00"/>
<rect x="374.1" y="929.9" width="54.2" height="22.1" fill="#00ff00"/>
<path d="M153.6,929.9H870.3M153.6,907.7H870.3M153.6,885.5H870.3M153.6,863.4H870.3M153.6,841.2H870.3M179.7,952V819.1M235.1,952V819.1M290.4,952V819.1M345.8,952V819.1M401.2,952V819.1M456.5,952V819.1M511.9,952V819.1M567.3,952V819.1M622.7,952V819.1M678,952V819.1M733.4,952V819.1M788.8,952V819.1M844.1,952V819.1" stroke="#000" stroke-opacity=".72" stroke-width=".7" stroke-dasharray="4 5.6" fill="none"/>
<path d="M153.6,952h-14M870.3,952h14.3M153.6,929.9h-14M870.3,929.9h14.3M153.6,907.7h-14M870.3,907.7h14.3M153.6,885.5h-14M870.3,885.5h14.3M153.6,863.4h-14M870.3,863.4h14.3M153.6,841.2h-14M870.3,841.2h14.3M153.6,819.1h-14M870.3,819.1h14.3M179.7,952v14M235.1,952v14M290.4,952v14M345.8,952v14M401.2,952v14M456.5,952v14M511.9,952v14M567.3,952v14M622.7,952v14M678,952v14M733.4,952v14M788.8,952v14M844.1,952v14" stroke="#000" stroke-width="1.2" fill="none"/>
<path d="M153.6,947.6h-7M870.3,947.6h7.3M153.6,943.1h-7M870.3,943.1h7.3M153.6,938.7h-7M870.3,938.7h7.3M153.6,934.3h-7M870.3,934.3h7.3M153.6,925.4h-7M870.3,925.4h7.3M153.6,921h-7M870.3,921h7.3M153.6,916.6h-7M870.3,916.6h7.3M153.6,912.1h-7M870.3,912.1h7.3M153.6,903.3h-7M870.3,903.3h7.3M153.6,898.8h-7M870.3,898.8h7.3M153.6,894.4h-7M870.3,894.4h7.3M153.6,890h-7M870.3,890h7.3M153.6,881.1h-7M870.3,881.1h7.3M153.6,876.7h-7M870.3,876.7h7.3M153.6,872.3h-7M870.3,872.3h7.3M153.6,867.8h-7M870.3,867.8h7.3M153.6,859h-7M870.3,859h7.3M153.6,854.5h-7M870.3,854.5h7.3M153.6,850.1h-7M870.3,850.1h7.3M153.6,845.7h-7M870.3,845.7h7.3M153.6,836.8h-7M870.3,836.8h7.3M153.6,832.4h-7M870.3,832.4h7.3M153.6,828h-7M870.3,828h7.3M153.6,823.5h-7M870.3,823.5h7.3" stroke="#000" stroke-opacity=".75" stroke-width=".75" fill="none"/>
<rect x="153.6" y="819.1" width="716.7" height="132.9" fill="none" stroke="#000" stroke-width="1.25"/>
<text x="132.6" y="955.3" font-size="9.3" text-anchor="end">0.000</text>
<text x="132.6" y="933.2" font-size="9.3" text-anchor="end">0.010</text>
<text x="132.6" y="911" font-size="9.3" text-anchor="end">0.020</text>
<text x="132.6" y="888.9" font-size="9.3" text-anchor="end">0.030</text>
<text x="132.6" y="866.7" font-size="9.3" text-anchor="end">0.040</text>
<text x="132.6" y="844.6" font-size="9.3" text-anchor="end">0.050</text>
<text x="132.6" y="822.4" font-size="9.3" text-anchor="end">0.060</text>
<text transform="translate(182.9,977.9) rotate(-45)" font-size="12.4" text-anchor="middle" y="4.5">17_12</text>
<text transform="translate(238.3,977.9) rotate(-45)" font-size="12.4" text-anchor="middle" y="4.5">17_15</text>
<text transform="translate(293.6,977.9) rotate(-45)" font-size="12.4" text-anchor="middle" y="4.5">17_18</text>
<text transform="translate(349,977.9) rotate(-45)" font-size="12.4" text-anchor="middle" y="4.5">17_21</text>
<text transform="translate(404.4,977.9) rotate(-45)" font-size="12.4" text-anchor="middle" y="4.5">18_00</text>
<text transform="translate(459.7,977.9) rotate(-45)" font-size="12.4" text-anchor="middle" y="4.5">18_03</text>
<text transform="translate(515.1,977.9) rotate(-45)" font-size="12.4" text-anchor="middle" y="4.5">18_06</text>
<text transform="translate(570.5,977.9) rotate(-45)" font-size="12.4" text-anchor="middle" y="4.5">18_09</text>
<text transform="translate(625.9,977.9) rotate(-45)" font-size="12.4" text-anchor="middle" y="4.5">18_12</text>
<text transform="translate(681.2,977.9) rotate(-45)" font-size="12.4" text-anchor="middle" y="4.5">18_15</text>
<text transform="translate(736.6,977.9) rotate(-45)" font-size="12.4" text-anchor="middle" y="4.5">18_18</text>
<text transform="translate(792,977.9) rotate(-45)" font-size="12.4" text-anchor="middle" y="4.5">18_21</text>
<text transform="translate(847.3,977.9) rotate(-45)" font-size="12.4" text-anchor="middle" y="4.5">19_00</text>
<text transform="translate(90.9,885.7) rotate(-90) scale(0.997,1)" font-size="25" text-anchor="middle">PRECIP, mm</text>
</svg></body></html>
